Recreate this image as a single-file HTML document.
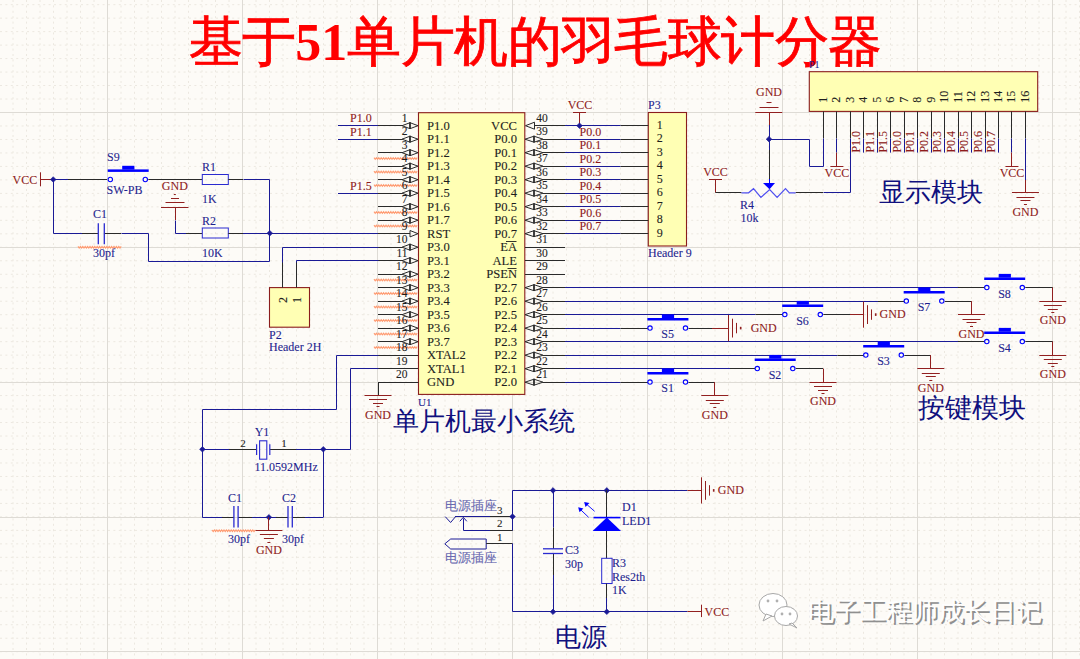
<!DOCTYPE html>
<html><head><meta charset="utf-8"><style>html,body{margin:0;padding:0;background:#fdfbf7;}svg{display:block}</style></head>
<body><svg width="1080" height="659" viewBox="0 0 1080 659">
<rect x="0" y="0" width="1080" height="659" fill="#fdfbf7"/>
<line x1="13.0" y1="0" x2="13.0" y2="659" stroke="#ece8e0" stroke-width="1" stroke-dasharray="2,3.4"/>
<line x1="26.5" y1="0" x2="26.5" y2="659" stroke="#ece8e0" stroke-width="1" stroke-dasharray="2,3.4"/>
<line x1="40.0" y1="0" x2="40.0" y2="659" stroke="#ece8e0" stroke-width="1" stroke-dasharray="2,3.4"/>
<line x1="53.5" y1="0" x2="53.5" y2="659" stroke="#ece8e0" stroke-width="1" stroke-dasharray="2,3.4"/>
<line x1="67.0" y1="0" x2="67.0" y2="659" stroke="#ece8e0" stroke-width="1" stroke-dasharray="2,3.4"/>
<line x1="80.5" y1="0" x2="80.5" y2="659" stroke="#ece8e0" stroke-width="1" stroke-dasharray="2,3.4"/>
<line x1="94.0" y1="0" x2="94.0" y2="659" stroke="#ece8e0" stroke-width="1" stroke-dasharray="2,3.4"/>
<line x1="107.5" y1="0" x2="107.5" y2="659" stroke="#ece8e0" stroke-width="1" stroke-dasharray="2,3.4"/>
<line x1="121.0" y1="0" x2="121.0" y2="659" stroke="#ece8e0" stroke-width="1" stroke-dasharray="2,3.4"/>
<line x1="134.5" y1="0" x2="134.5" y2="659" stroke="#ece8e0" stroke-width="1" stroke-dasharray="2,3.4"/>
<line x1="148.0" y1="0" x2="148.0" y2="659" stroke="#ece8e0" stroke-width="1" stroke-dasharray="2,3.4"/>
<line x1="161.5" y1="0" x2="161.5" y2="659" stroke="#ece8e0" stroke-width="1" stroke-dasharray="2,3.4"/>
<line x1="175.0" y1="0" x2="175.0" y2="659" stroke="#ece8e0" stroke-width="1" stroke-dasharray="2,3.4"/>
<line x1="188.5" y1="0" x2="188.5" y2="659" stroke="#ece8e0" stroke-width="1" stroke-dasharray="2,3.4"/>
<line x1="202.0" y1="0" x2="202.0" y2="659" stroke="#ece8e0" stroke-width="1" stroke-dasharray="2,3.4"/>
<line x1="215.5" y1="0" x2="215.5" y2="659" stroke="#ece8e0" stroke-width="1" stroke-dasharray="2,3.4"/>
<line x1="229.0" y1="0" x2="229.0" y2="659" stroke="#ece8e0" stroke-width="1" stroke-dasharray="2,3.4"/>
<line x1="242.5" y1="0" x2="242.5" y2="659" stroke="#ece8e0" stroke-width="1" stroke-dasharray="2,3.4"/>
<line x1="256.0" y1="0" x2="256.0" y2="659" stroke="#ece8e0" stroke-width="1" stroke-dasharray="2,3.4"/>
<line x1="269.5" y1="0" x2="269.5" y2="659" stroke="#ece8e0" stroke-width="1" stroke-dasharray="2,3.4"/>
<line x1="283.0" y1="0" x2="283.0" y2="659" stroke="#ece8e0" stroke-width="1" stroke-dasharray="2,3.4"/>
<line x1="296.5" y1="0" x2="296.5" y2="659" stroke="#ece8e0" stroke-width="1" stroke-dasharray="2,3.4"/>
<line x1="310.0" y1="0" x2="310.0" y2="659" stroke="#ece8e0" stroke-width="1" stroke-dasharray="2,3.4"/>
<line x1="323.5" y1="0" x2="323.5" y2="659" stroke="#ece8e0" stroke-width="1" stroke-dasharray="2,3.4"/>
<line x1="337.0" y1="0" x2="337.0" y2="659" stroke="#ece8e0" stroke-width="1" stroke-dasharray="2,3.4"/>
<line x1="350.5" y1="0" x2="350.5" y2="659" stroke="#ece8e0" stroke-width="1" stroke-dasharray="2,3.4"/>
<line x1="364.0" y1="0" x2="364.0" y2="659" stroke="#ece8e0" stroke-width="1" stroke-dasharray="2,3.4"/>
<line x1="377.5" y1="0" x2="377.5" y2="659" stroke="#ece8e0" stroke-width="1" stroke-dasharray="2,3.4"/>
<line x1="391.0" y1="0" x2="391.0" y2="659" stroke="#ece8e0" stroke-width="1" stroke-dasharray="2,3.4"/>
<line x1="404.5" y1="0" x2="404.5" y2="659" stroke="#ece8e0" stroke-width="1" stroke-dasharray="2,3.4"/>
<line x1="418.0" y1="0" x2="418.0" y2="659" stroke="#ece8e0" stroke-width="1" stroke-dasharray="2,3.4"/>
<line x1="431.5" y1="0" x2="431.5" y2="659" stroke="#ece8e0" stroke-width="1" stroke-dasharray="2,3.4"/>
<line x1="445.0" y1="0" x2="445.0" y2="659" stroke="#ece8e0" stroke-width="1" stroke-dasharray="2,3.4"/>
<line x1="458.5" y1="0" x2="458.5" y2="659" stroke="#ece8e0" stroke-width="1" stroke-dasharray="2,3.4"/>
<line x1="472.0" y1="0" x2="472.0" y2="659" stroke="#ece8e0" stroke-width="1" stroke-dasharray="2,3.4"/>
<line x1="485.5" y1="0" x2="485.5" y2="659" stroke="#ece8e0" stroke-width="1" stroke-dasharray="2,3.4"/>
<line x1="499.0" y1="0" x2="499.0" y2="659" stroke="#ece8e0" stroke-width="1" stroke-dasharray="2,3.4"/>
<line x1="512.5" y1="0" x2="512.5" y2="659" stroke="#ece8e0" stroke-width="1" stroke-dasharray="2,3.4"/>
<line x1="526.0" y1="0" x2="526.0" y2="659" stroke="#ece8e0" stroke-width="1" stroke-dasharray="2,3.4"/>
<line x1="539.5" y1="0" x2="539.5" y2="659" stroke="#ece8e0" stroke-width="1" stroke-dasharray="2,3.4"/>
<line x1="553.0" y1="0" x2="553.0" y2="659" stroke="#ece8e0" stroke-width="1" stroke-dasharray="2,3.4"/>
<line x1="566.5" y1="0" x2="566.5" y2="659" stroke="#ece8e0" stroke-width="1" stroke-dasharray="2,3.4"/>
<line x1="580.0" y1="0" x2="580.0" y2="659" stroke="#ece8e0" stroke-width="1" stroke-dasharray="2,3.4"/>
<line x1="593.5" y1="0" x2="593.5" y2="659" stroke="#ece8e0" stroke-width="1" stroke-dasharray="2,3.4"/>
<line x1="607.0" y1="0" x2="607.0" y2="659" stroke="#ece8e0" stroke-width="1" stroke-dasharray="2,3.4"/>
<line x1="620.5" y1="0" x2="620.5" y2="659" stroke="#ece8e0" stroke-width="1" stroke-dasharray="2,3.4"/>
<line x1="634.0" y1="0" x2="634.0" y2="659" stroke="#ece8e0" stroke-width="1" stroke-dasharray="2,3.4"/>
<line x1="647.5" y1="0" x2="647.5" y2="659" stroke="#ece8e0" stroke-width="1" stroke-dasharray="2,3.4"/>
<line x1="661.0" y1="0" x2="661.0" y2="659" stroke="#ece8e0" stroke-width="1" stroke-dasharray="2,3.4"/>
<line x1="674.5" y1="0" x2="674.5" y2="659" stroke="#ece8e0" stroke-width="1" stroke-dasharray="2,3.4"/>
<line x1="688.0" y1="0" x2="688.0" y2="659" stroke="#ece8e0" stroke-width="1" stroke-dasharray="2,3.4"/>
<line x1="701.5" y1="0" x2="701.5" y2="659" stroke="#ece8e0" stroke-width="1" stroke-dasharray="2,3.4"/>
<line x1="715.0" y1="0" x2="715.0" y2="659" stroke="#ece8e0" stroke-width="1" stroke-dasharray="2,3.4"/>
<line x1="728.5" y1="0" x2="728.5" y2="659" stroke="#ece8e0" stroke-width="1" stroke-dasharray="2,3.4"/>
<line x1="742.0" y1="0" x2="742.0" y2="659" stroke="#ece8e0" stroke-width="1" stroke-dasharray="2,3.4"/>
<line x1="755.5" y1="0" x2="755.5" y2="659" stroke="#ece8e0" stroke-width="1" stroke-dasharray="2,3.4"/>
<line x1="769.0" y1="0" x2="769.0" y2="659" stroke="#ece8e0" stroke-width="1" stroke-dasharray="2,3.4"/>
<line x1="782.5" y1="0" x2="782.5" y2="659" stroke="#ece8e0" stroke-width="1" stroke-dasharray="2,3.4"/>
<line x1="796.0" y1="0" x2="796.0" y2="659" stroke="#ece8e0" stroke-width="1" stroke-dasharray="2,3.4"/>
<line x1="809.5" y1="0" x2="809.5" y2="659" stroke="#ece8e0" stroke-width="1" stroke-dasharray="2,3.4"/>
<line x1="823.0" y1="0" x2="823.0" y2="659" stroke="#ece8e0" stroke-width="1" stroke-dasharray="2,3.4"/>
<line x1="836.5" y1="0" x2="836.5" y2="659" stroke="#ece8e0" stroke-width="1" stroke-dasharray="2,3.4"/>
<line x1="850.0" y1="0" x2="850.0" y2="659" stroke="#ece8e0" stroke-width="1" stroke-dasharray="2,3.4"/>
<line x1="863.5" y1="0" x2="863.5" y2="659" stroke="#ece8e0" stroke-width="1" stroke-dasharray="2,3.4"/>
<line x1="877.0" y1="0" x2="877.0" y2="659" stroke="#ece8e0" stroke-width="1" stroke-dasharray="2,3.4"/>
<line x1="890.5" y1="0" x2="890.5" y2="659" stroke="#ece8e0" stroke-width="1" stroke-dasharray="2,3.4"/>
<line x1="904.0" y1="0" x2="904.0" y2="659" stroke="#ece8e0" stroke-width="1" stroke-dasharray="2,3.4"/>
<line x1="917.5" y1="0" x2="917.5" y2="659" stroke="#ece8e0" stroke-width="1" stroke-dasharray="2,3.4"/>
<line x1="931.0" y1="0" x2="931.0" y2="659" stroke="#ece8e0" stroke-width="1" stroke-dasharray="2,3.4"/>
<line x1="944.5" y1="0" x2="944.5" y2="659" stroke="#ece8e0" stroke-width="1" stroke-dasharray="2,3.4"/>
<line x1="958.0" y1="0" x2="958.0" y2="659" stroke="#ece8e0" stroke-width="1" stroke-dasharray="2,3.4"/>
<line x1="971.5" y1="0" x2="971.5" y2="659" stroke="#ece8e0" stroke-width="1" stroke-dasharray="2,3.4"/>
<line x1="985.0" y1="0" x2="985.0" y2="659" stroke="#ece8e0" stroke-width="1" stroke-dasharray="2,3.4"/>
<line x1="998.5" y1="0" x2="998.5" y2="659" stroke="#ece8e0" stroke-width="1" stroke-dasharray="2,3.4"/>
<line x1="1012.0" y1="0" x2="1012.0" y2="659" stroke="#ece8e0" stroke-width="1" stroke-dasharray="2,3.4"/>
<line x1="1025.5" y1="0" x2="1025.5" y2="659" stroke="#ece8e0" stroke-width="1" stroke-dasharray="2,3.4"/>
<line x1="1039.0" y1="0" x2="1039.0" y2="659" stroke="#ece8e0" stroke-width="1" stroke-dasharray="2,3.4"/>
<line x1="1052.5" y1="0" x2="1052.5" y2="659" stroke="#ece8e0" stroke-width="1" stroke-dasharray="2,3.4"/>
<line x1="1066.0" y1="0" x2="1066.0" y2="659" stroke="#ece8e0" stroke-width="1" stroke-dasharray="2,3.4"/>
<line x1="1079.5" y1="0" x2="1079.5" y2="659" stroke="#ece8e0" stroke-width="1" stroke-dasharray="2,3.4"/>
<line x1="0" y1="4.66" x2="1080" y2="4.66" stroke="#ece8e0" stroke-width="1" stroke-dasharray="2,3.4"/>
<line x1="0" y1="18.14" x2="1080" y2="18.14" stroke="#ece8e0" stroke-width="1" stroke-dasharray="2,3.4"/>
<line x1="0" y1="31.62" x2="1080" y2="31.62" stroke="#ece8e0" stroke-width="1" stroke-dasharray="2,3.4"/>
<line x1="0" y1="45.1" x2="1080" y2="45.1" stroke="#ece8e0" stroke-width="1" stroke-dasharray="2,3.4"/>
<line x1="0" y1="58.58" x2="1080" y2="58.58" stroke="#ece8e0" stroke-width="1" stroke-dasharray="2,3.4"/>
<line x1="0" y1="72.06" x2="1080" y2="72.06" stroke="#ece8e0" stroke-width="1" stroke-dasharray="2,3.4"/>
<line x1="0" y1="85.54" x2="1080" y2="85.54" stroke="#ece8e0" stroke-width="1" stroke-dasharray="2,3.4"/>
<line x1="0" y1="99.02" x2="1080" y2="99.02" stroke="#ece8e0" stroke-width="1" stroke-dasharray="2,3.4"/>
<line x1="0" y1="112.5" x2="1080" y2="112.5" stroke="#ece8e0" stroke-width="1" stroke-dasharray="2,3.4"/>
<line x1="0" y1="125.98" x2="1080" y2="125.98" stroke="#ece8e0" stroke-width="1" stroke-dasharray="2,3.4"/>
<line x1="0" y1="139.46" x2="1080" y2="139.46" stroke="#ece8e0" stroke-width="1" stroke-dasharray="2,3.4"/>
<line x1="0" y1="152.94" x2="1080" y2="152.94" stroke="#ece8e0" stroke-width="1" stroke-dasharray="2,3.4"/>
<line x1="0" y1="166.42" x2="1080" y2="166.42" stroke="#ece8e0" stroke-width="1" stroke-dasharray="2,3.4"/>
<line x1="0" y1="179.9" x2="1080" y2="179.9" stroke="#ece8e0" stroke-width="1" stroke-dasharray="2,3.4"/>
<line x1="0" y1="193.38" x2="1080" y2="193.38" stroke="#ece8e0" stroke-width="1" stroke-dasharray="2,3.4"/>
<line x1="0" y1="206.86" x2="1080" y2="206.86" stroke="#ece8e0" stroke-width="1" stroke-dasharray="2,3.4"/>
<line x1="0" y1="220.34" x2="1080" y2="220.34" stroke="#ece8e0" stroke-width="1" stroke-dasharray="2,3.4"/>
<line x1="0" y1="233.82" x2="1080" y2="233.82" stroke="#ece8e0" stroke-width="1" stroke-dasharray="2,3.4"/>
<line x1="0" y1="247.3" x2="1080" y2="247.3" stroke="#ece8e0" stroke-width="1" stroke-dasharray="2,3.4"/>
<line x1="0" y1="260.78" x2="1080" y2="260.78" stroke="#ece8e0" stroke-width="1" stroke-dasharray="2,3.4"/>
<line x1="0" y1="274.26" x2="1080" y2="274.26" stroke="#ece8e0" stroke-width="1" stroke-dasharray="2,3.4"/>
<line x1="0" y1="287.74" x2="1080" y2="287.74" stroke="#ece8e0" stroke-width="1" stroke-dasharray="2,3.4"/>
<line x1="0" y1="301.22" x2="1080" y2="301.22" stroke="#ece8e0" stroke-width="1" stroke-dasharray="2,3.4"/>
<line x1="0" y1="314.7" x2="1080" y2="314.7" stroke="#ece8e0" stroke-width="1" stroke-dasharray="2,3.4"/>
<line x1="0" y1="328.18" x2="1080" y2="328.18" stroke="#ece8e0" stroke-width="1" stroke-dasharray="2,3.4"/>
<line x1="0" y1="341.66" x2="1080" y2="341.66" stroke="#ece8e0" stroke-width="1" stroke-dasharray="2,3.4"/>
<line x1="0" y1="355.14" x2="1080" y2="355.14" stroke="#ece8e0" stroke-width="1" stroke-dasharray="2,3.4"/>
<line x1="0" y1="368.62" x2="1080" y2="368.62" stroke="#ece8e0" stroke-width="1" stroke-dasharray="2,3.4"/>
<line x1="0" y1="382.1" x2="1080" y2="382.1" stroke="#ece8e0" stroke-width="1" stroke-dasharray="2,3.4"/>
<line x1="0" y1="395.58" x2="1080" y2="395.58" stroke="#ece8e0" stroke-width="1" stroke-dasharray="2,3.4"/>
<line x1="0" y1="409.06" x2="1080" y2="409.06" stroke="#ece8e0" stroke-width="1" stroke-dasharray="2,3.4"/>
<line x1="0" y1="422.54" x2="1080" y2="422.54" stroke="#ece8e0" stroke-width="1" stroke-dasharray="2,3.4"/>
<line x1="0" y1="436.02" x2="1080" y2="436.02" stroke="#ece8e0" stroke-width="1" stroke-dasharray="2,3.4"/>
<line x1="0" y1="449.5" x2="1080" y2="449.5" stroke="#ece8e0" stroke-width="1" stroke-dasharray="2,3.4"/>
<line x1="0" y1="462.98" x2="1080" y2="462.98" stroke="#ece8e0" stroke-width="1" stroke-dasharray="2,3.4"/>
<line x1="0" y1="476.46" x2="1080" y2="476.46" stroke="#ece8e0" stroke-width="1" stroke-dasharray="2,3.4"/>
<line x1="0" y1="489.94" x2="1080" y2="489.94" stroke="#ece8e0" stroke-width="1" stroke-dasharray="2,3.4"/>
<line x1="0" y1="503.42" x2="1080" y2="503.42" stroke="#ece8e0" stroke-width="1" stroke-dasharray="2,3.4"/>
<line x1="0" y1="516.9" x2="1080" y2="516.9" stroke="#ece8e0" stroke-width="1" stroke-dasharray="2,3.4"/>
<line x1="0" y1="530.38" x2="1080" y2="530.38" stroke="#ece8e0" stroke-width="1" stroke-dasharray="2,3.4"/>
<line x1="0" y1="543.86" x2="1080" y2="543.86" stroke="#ece8e0" stroke-width="1" stroke-dasharray="2,3.4"/>
<line x1="0" y1="557.34" x2="1080" y2="557.34" stroke="#ece8e0" stroke-width="1" stroke-dasharray="2,3.4"/>
<line x1="0" y1="570.82" x2="1080" y2="570.82" stroke="#ece8e0" stroke-width="1" stroke-dasharray="2,3.4"/>
<line x1="0" y1="584.3" x2="1080" y2="584.3" stroke="#ece8e0" stroke-width="1" stroke-dasharray="2,3.4"/>
<line x1="0" y1="597.78" x2="1080" y2="597.78" stroke="#ece8e0" stroke-width="1" stroke-dasharray="2,3.4"/>
<line x1="0" y1="611.26" x2="1080" y2="611.26" stroke="#ece8e0" stroke-width="1" stroke-dasharray="2,3.4"/>
<line x1="0" y1="624.74" x2="1080" y2="624.74" stroke="#ece8e0" stroke-width="1" stroke-dasharray="2,3.4"/>
<line x1="0" y1="638.22" x2="1080" y2="638.22" stroke="#ece8e0" stroke-width="1" stroke-dasharray="2,3.4"/>
<line x1="0" y1="651.7" x2="1080" y2="651.7" stroke="#ece8e0" stroke-width="1" stroke-dasharray="2,3.4"/>
<line x1="107.5" y1="0" x2="107.5" y2="659" stroke="#dedbd5" stroke-width="1"/>
<line x1="242.5" y1="0" x2="242.5" y2="659" stroke="#dedbd5" stroke-width="1"/>
<line x1="377.5" y1="0" x2="377.5" y2="659" stroke="#dedbd5" stroke-width="1"/>
<line x1="512.5" y1="0" x2="512.5" y2="659" stroke="#dedbd5" stroke-width="1"/>
<line x1="647.5" y1="0" x2="647.5" y2="659" stroke="#dedbd5" stroke-width="1"/>
<line x1="782.5" y1="0" x2="782.5" y2="659" stroke="#dedbd5" stroke-width="1"/>
<line x1="917.5" y1="0" x2="917.5" y2="659" stroke="#dedbd5" stroke-width="1"/>
<line x1="1052.5" y1="0" x2="1052.5" y2="659" stroke="#dedbd5" stroke-width="1"/>
<line x1="0" y1="112.5" x2="1080" y2="112.5" stroke="#dedbd5" stroke-width="1"/>
<line x1="0" y1="247.5" x2="1080" y2="247.5" stroke="#dedbd5" stroke-width="1"/>
<line x1="0" y1="382.5" x2="1080" y2="382.5" stroke="#dedbd5" stroke-width="1"/>
<line x1="0" y1="517.5" x2="1080" y2="517.5" stroke="#dedbd5" stroke-width="1"/>
<line x1="0" y1="651.5" x2="1080" y2="651.5" stroke="#dedbd5" stroke-width="1"/>
<text x="188.5" y="59.5" font-size="54" fill="#ff0000" text-anchor="start" font-family="Liberation Sans, sans-serif"  font-weight="500" letter-spacing="-0.6" stroke="#ff0000" stroke-width="0.8">基于<tspan font-family="Liberation Serif, serif" font-weight="bold" letter-spacing="0" stroke-width="0" font-size="52">51</tspan>单片机的羽毛球计分器</text>
<rect x="418.5" y="112.7" width="106.29999999999995" height="281.7" fill="#ffffb4" stroke="#8a1d1d" stroke-width="1.1"/>
<polyline points="374,157.7 375.2,159.3 376.4,157.7 377.6,159.3 378.8,157.7 380.0,159.3 381.2,157.7 382.4,159.3 383.6,157.7 384.8,159.3 386.0,157.7 387.2,159.3 388.4,157.7 389.6,159.3 390.8,157.7 392.0,159.3 393.2,157.7 394.4,159.3 395.6,157.7 396.8,159.3 398.0,157.7 399.2,159.3 400.4,157.7 401.6,159.3 402.8,157.7 404.0,159.3 405.2,157.7 406.4,159.3 407.6,157.7 408.8,159.3 410.0,157.7 411.2,159.3 412.4,157.7 413.6,159.3 414.8,157.7 416.0,159.3 417.2,157.7" fill="none" stroke="#ff9a70" stroke-width="1.1"/>
<polyline points="374,171.2 375.2,172.8 376.4,171.2 377.6,172.8 378.8,171.2 380.0,172.8 381.2,171.2 382.4,172.8 383.6,171.2 384.8,172.8 386.0,171.2 387.2,172.8 388.4,171.2 389.6,172.8 390.8,171.2 392.0,172.8 393.2,171.2 394.4,172.8 395.6,171.2 396.8,172.8 398.0,171.2 399.2,172.8 400.4,171.2 401.6,172.8 402.8,171.2 404.0,172.8 405.2,171.2 406.4,172.8 407.6,171.2 408.8,172.8 410.0,171.2 411.2,172.8 412.4,171.2 413.6,172.8 414.8,171.2 416.0,172.8 417.2,171.2" fill="none" stroke="#ff9a70" stroke-width="1.1"/>
<polyline points="374,184.7 375.2,186.3 376.4,184.7 377.6,186.3 378.8,184.7 380.0,186.3 381.2,184.7 382.4,186.3 383.6,184.7 384.8,186.3 386.0,184.7 387.2,186.3 388.4,184.7 389.6,186.3 390.8,184.7 392.0,186.3 393.2,184.7 394.4,186.3 395.6,184.7 396.8,186.3 398.0,184.7 399.2,186.3 400.4,184.7 401.6,186.3 402.8,184.7 404.0,186.3 405.2,184.7 406.4,186.3 407.6,184.7 408.8,186.3 410.0,184.7 411.2,186.3 412.4,184.7 413.6,186.3 414.8,184.7 416.0,186.3 417.2,184.7" fill="none" stroke="#ff9a70" stroke-width="1.1"/>
<polyline points="374,211.7 375.2,213.3 376.4,211.7 377.6,213.3 378.8,211.7 380.0,213.3 381.2,211.7 382.4,213.3 383.6,211.7 384.8,213.3 386.0,211.7 387.2,213.3 388.4,211.7 389.6,213.3 390.8,211.7 392.0,213.3 393.2,211.7 394.4,213.3 395.6,211.7 396.8,213.3 398.0,211.7 399.2,213.3 400.4,211.7 401.6,213.3 402.8,211.7 404.0,213.3 405.2,211.7 406.4,213.3 407.6,211.7 408.8,213.3 410.0,211.7 411.2,213.3 412.4,211.7 413.6,213.3 414.8,211.7 416.0,213.3 417.2,211.7" fill="none" stroke="#ff9a70" stroke-width="1.1"/>
<polyline points="374,225.2 375.2,226.8 376.4,225.2 377.6,226.8 378.8,225.2 380.0,226.8 381.2,225.2 382.4,226.8 383.6,225.2 384.8,226.8 386.0,225.2 387.2,226.8 388.4,225.2 389.6,226.8 390.8,225.2 392.0,226.8 393.2,225.2 394.4,226.8 395.6,225.2 396.8,226.8 398.0,225.2 399.2,226.8 400.4,225.2 401.6,226.8 402.8,225.2 404.0,226.8 405.2,225.2 406.4,226.8 407.6,225.2 408.8,226.8 410.0,225.2 411.2,226.8 412.4,225.2 413.6,226.8 414.8,225.2 416.0,226.8 417.2,225.2" fill="none" stroke="#ff9a70" stroke-width="1.1"/>
<polyline points="374,279.2 375.2,280.8 376.4,279.2 377.6,280.8 378.8,279.2 380.0,280.8 381.2,279.2 382.4,280.8 383.6,279.2 384.8,280.8 386.0,279.2 387.2,280.8 388.4,279.2 389.6,280.8 390.8,279.2 392.0,280.8 393.2,279.2 394.4,280.8 395.6,279.2 396.8,280.8 398.0,279.2 399.2,280.8 400.4,279.2 401.6,280.8 402.8,279.2 404.0,280.8 405.2,279.2 406.4,280.8 407.6,279.2 408.8,280.8 410.0,279.2 411.2,280.8 412.4,279.2 413.6,280.8 414.8,279.2 416.0,280.8 417.2,279.2" fill="none" stroke="#ff9a70" stroke-width="1.1"/>
<polyline points="374,292.7 375.2,294.3 376.4,292.7 377.6,294.3 378.8,292.7 380.0,294.3 381.2,292.7 382.4,294.3 383.6,292.7 384.8,294.3 386.0,292.7 387.2,294.3 388.4,292.7 389.6,294.3 390.8,292.7 392.0,294.3 393.2,292.7 394.4,294.3 395.6,292.7 396.8,294.3 398.0,292.7 399.2,294.3 400.4,292.7 401.6,294.3 402.8,292.7 404.0,294.3 405.2,292.7 406.4,294.3 407.6,292.7 408.8,294.3 410.0,292.7 411.2,294.3 412.4,292.7 413.6,294.3 414.8,292.7 416.0,294.3 417.2,292.7" fill="none" stroke="#ff9a70" stroke-width="1.1"/>
<polyline points="374,306.2 375.2,307.8 376.4,306.2 377.6,307.8 378.8,306.2 380.0,307.8 381.2,306.2 382.4,307.8 383.6,306.2 384.8,307.8 386.0,306.2 387.2,307.8 388.4,306.2 389.6,307.8 390.8,306.2 392.0,307.8 393.2,306.2 394.4,307.8 395.6,306.2 396.8,307.8 398.0,306.2 399.2,307.8 400.4,306.2 401.6,307.8 402.8,306.2 404.0,307.8 405.2,306.2 406.4,307.8 407.6,306.2 408.8,307.8 410.0,306.2 411.2,307.8 412.4,306.2 413.6,307.8 414.8,306.2 416.0,307.8 417.2,306.2" fill="none" stroke="#ff9a70" stroke-width="1.1"/>
<polyline points="374,319.7 375.2,321.3 376.4,319.7 377.6,321.3 378.8,319.7 380.0,321.3 381.2,319.7 382.4,321.3 383.6,319.7 384.8,321.3 386.0,319.7 387.2,321.3 388.4,319.7 389.6,321.3 390.8,319.7 392.0,321.3 393.2,319.7 394.4,321.3 395.6,319.7 396.8,321.3 398.0,319.7 399.2,321.3 400.4,319.7 401.6,321.3 402.8,319.7 404.0,321.3 405.2,319.7 406.4,321.3 407.6,319.7 408.8,321.3 410.0,319.7 411.2,321.3 412.4,319.7 413.6,321.3 414.8,319.7 416.0,321.3 417.2,319.7" fill="none" stroke="#ff9a70" stroke-width="1.1"/>
<polyline points="374,333.2 375.2,334.8 376.4,333.2 377.6,334.8 378.8,333.2 380.0,334.8 381.2,333.2 382.4,334.8 383.6,333.2 384.8,334.8 386.0,333.2 387.2,334.8 388.4,333.2 389.6,334.8 390.8,333.2 392.0,334.8 393.2,333.2 394.4,334.8 395.6,333.2 396.8,334.8 398.0,333.2 399.2,334.8 400.4,333.2 401.6,334.8 402.8,333.2 404.0,334.8 405.2,333.2 406.4,334.8 407.6,333.2 408.8,334.8 410.0,333.2 411.2,334.8 412.4,333.2 413.6,334.8 414.8,333.2 416.0,334.8 417.2,333.2" fill="none" stroke="#ff9a70" stroke-width="1.1"/>
<polyline points="374,346.7 375.2,348.3 376.4,346.7 377.6,348.3 378.8,346.7 380.0,348.3 381.2,346.7 382.4,348.3 383.6,346.7 384.8,348.3 386.0,346.7 387.2,348.3 388.4,346.7 389.6,348.3 390.8,346.7 392.0,348.3 393.2,346.7 394.4,348.3 395.6,346.7 396.8,348.3 398.0,346.7 399.2,348.3 400.4,346.7 401.6,348.3 402.8,346.7 404.0,348.3 405.2,346.7 406.4,348.3 407.6,346.7 408.8,348.3 410.0,346.7 411.2,348.3 412.4,346.7 413.6,348.3 414.8,346.7 416.0,348.3 417.2,346.7" fill="none" stroke="#ff9a70" stroke-width="1.1"/>
<line x1="378" y1="125.5" x2="402" y2="125.5" stroke="#2a2a2a" stroke-width="1.0"/>
<path d="M410,122.7 L402,125.7 L410,128.7 M410,122.7 L418,125.7 L410,128.7" fill="none" stroke="#2a2a2a" stroke-width="1"/>
<line x1="410" y1="122.3" x2="410" y2="129.1" stroke="#2a2a2a" stroke-width="1.8"/>
<text x="427" y="129.6" font-size="12.6" fill="#1e1e1e" text-anchor="start" font-family="Liberation Serif, serif" stroke="#1e1e1e" stroke-width="0.1" >P1.0</text>
<text x="407.5" y="121.9" font-size="11.5" fill="#1e1e1e" text-anchor="end" font-family="Liberation Serif, serif" stroke="#1e1e1e" stroke-width="0.1" >1</text>
<line x1="378" y1="139.5" x2="402" y2="139.5" stroke="#2a2a2a" stroke-width="1.0"/>
<path d="M410,136.2 L402,139.2 L410,142.2 M410,136.2 L418,139.2 L410,142.2" fill="none" stroke="#2a2a2a" stroke-width="1"/>
<line x1="410" y1="135.79999999999998" x2="410" y2="142.6" stroke="#2a2a2a" stroke-width="1.8"/>
<text x="427" y="143.1" font-size="12.6" fill="#1e1e1e" text-anchor="start" font-family="Liberation Serif, serif" stroke="#1e1e1e" stroke-width="0.1" >P1.1</text>
<text x="407.5" y="135.39999999999998" font-size="11.5" fill="#1e1e1e" text-anchor="end" font-family="Liberation Serif, serif" stroke="#1e1e1e" stroke-width="0.1" >2</text>
<line x1="378" y1="152.5" x2="402" y2="152.5" stroke="#2a2a2a" stroke-width="1.0"/>
<path d="M410,149.7 L402,152.7 L410,155.7 M410,149.7 L418,152.7 L410,155.7" fill="none" stroke="#2a2a2a" stroke-width="1"/>
<line x1="410" y1="149.29999999999998" x2="410" y2="156.1" stroke="#2a2a2a" stroke-width="1.8"/>
<text x="427" y="156.6" font-size="12.6" fill="#1e1e1e" text-anchor="start" font-family="Liberation Serif, serif" stroke="#1e1e1e" stroke-width="0.1" >P1.2</text>
<text x="407.5" y="148.89999999999998" font-size="11.5" fill="#1e1e1e" text-anchor="end" font-family="Liberation Serif, serif" stroke="#1e1e1e" stroke-width="0.1" >3</text>
<line x1="378" y1="166.5" x2="402" y2="166.5" stroke="#2a2a2a" stroke-width="1.0"/>
<path d="M410,163.2 L402,166.2 L410,169.2 M410,163.2 L418,166.2 L410,169.2" fill="none" stroke="#2a2a2a" stroke-width="1"/>
<line x1="410" y1="162.79999999999998" x2="410" y2="169.6" stroke="#2a2a2a" stroke-width="1.8"/>
<text x="427" y="170.1" font-size="12.6" fill="#1e1e1e" text-anchor="start" font-family="Liberation Serif, serif" stroke="#1e1e1e" stroke-width="0.1" >P1.3</text>
<text x="407.5" y="162.39999999999998" font-size="11.5" fill="#1e1e1e" text-anchor="end" font-family="Liberation Serif, serif" stroke="#1e1e1e" stroke-width="0.1" >4</text>
<line x1="378" y1="179.5" x2="402" y2="179.5" stroke="#2a2a2a" stroke-width="1.0"/>
<path d="M410,176.7 L402,179.7 L410,182.7 M410,176.7 L418,179.7 L410,182.7" fill="none" stroke="#2a2a2a" stroke-width="1"/>
<line x1="410" y1="176.29999999999998" x2="410" y2="183.1" stroke="#2a2a2a" stroke-width="1.8"/>
<text x="427" y="183.6" font-size="12.6" fill="#1e1e1e" text-anchor="start" font-family="Liberation Serif, serif" stroke="#1e1e1e" stroke-width="0.1" >P1.4</text>
<text x="407.5" y="175.89999999999998" font-size="11.5" fill="#1e1e1e" text-anchor="end" font-family="Liberation Serif, serif" stroke="#1e1e1e" stroke-width="0.1" >5</text>
<line x1="378" y1="193.5" x2="402" y2="193.5" stroke="#2a2a2a" stroke-width="1.0"/>
<path d="M410,190.2 L402,193.2 L410,196.2 M410,190.2 L418,193.2 L410,196.2" fill="none" stroke="#2a2a2a" stroke-width="1"/>
<line x1="410" y1="189.79999999999998" x2="410" y2="196.6" stroke="#2a2a2a" stroke-width="1.8"/>
<text x="427" y="197.1" font-size="12.6" fill="#1e1e1e" text-anchor="start" font-family="Liberation Serif, serif" stroke="#1e1e1e" stroke-width="0.1" >P1.5</text>
<text x="407.5" y="189.39999999999998" font-size="11.5" fill="#1e1e1e" text-anchor="end" font-family="Liberation Serif, serif" stroke="#1e1e1e" stroke-width="0.1" >6</text>
<line x1="378" y1="206.5" x2="402" y2="206.5" stroke="#2a2a2a" stroke-width="1.0"/>
<path d="M410,203.7 L402,206.7 L410,209.7 M410,203.7 L418,206.7 L410,209.7" fill="none" stroke="#2a2a2a" stroke-width="1"/>
<line x1="410" y1="203.29999999999998" x2="410" y2="210.1" stroke="#2a2a2a" stroke-width="1.8"/>
<text x="427" y="210.6" font-size="12.6" fill="#1e1e1e" text-anchor="start" font-family="Liberation Serif, serif" stroke="#1e1e1e" stroke-width="0.1" >P1.6</text>
<text x="407.5" y="202.89999999999998" font-size="11.5" fill="#1e1e1e" text-anchor="end" font-family="Liberation Serif, serif" stroke="#1e1e1e" stroke-width="0.1" >7</text>
<line x1="378" y1="220.5" x2="402" y2="220.5" stroke="#2a2a2a" stroke-width="1.0"/>
<path d="M410,217.2 L402,220.2 L410,223.2 M410,217.2 L418,220.2 L410,223.2" fill="none" stroke="#2a2a2a" stroke-width="1"/>
<line x1="410" y1="216.79999999999998" x2="410" y2="223.6" stroke="#2a2a2a" stroke-width="1.8"/>
<text x="427" y="224.1" font-size="12.6" fill="#1e1e1e" text-anchor="start" font-family="Liberation Serif, serif" stroke="#1e1e1e" stroke-width="0.1" >P1.7</text>
<text x="407.5" y="216.39999999999998" font-size="11.5" fill="#1e1e1e" text-anchor="end" font-family="Liberation Serif, serif" stroke="#1e1e1e" stroke-width="0.1" >8</text>
<line x1="378" y1="233.5" x2="410" y2="233.5" stroke="#2a2a2a" stroke-width="1.0"/>
<path d="M410,230.5 L418,233.7 L410,236.89999999999998 Z" fill="none" stroke="#2a2a2a" stroke-width="1"/>
<text x="427" y="237.6" font-size="12.6" fill="#1e1e1e" text-anchor="start" font-family="Liberation Serif, serif" stroke="#1e1e1e" stroke-width="0.1" >RST</text>
<text x="407.5" y="229.89999999999998" font-size="11.5" fill="#1e1e1e" text-anchor="end" font-family="Liberation Serif, serif" stroke="#1e1e1e" stroke-width="0.1" >9</text>
<line x1="378" y1="247.5" x2="402" y2="247.5" stroke="#2a2a2a" stroke-width="1.0"/>
<path d="M410,244.2 L402,247.2 L410,250.2 M410,244.2 L418,247.2 L410,250.2" fill="none" stroke="#2a2a2a" stroke-width="1"/>
<line x1="410" y1="243.79999999999998" x2="410" y2="250.6" stroke="#2a2a2a" stroke-width="1.8"/>
<text x="427" y="251.1" font-size="12.6" fill="#1e1e1e" text-anchor="start" font-family="Liberation Serif, serif" stroke="#1e1e1e" stroke-width="0.1" >P3.0</text>
<text x="407.5" y="243.39999999999998" font-size="11.5" fill="#1e1e1e" text-anchor="end" font-family="Liberation Serif, serif" stroke="#1e1e1e" stroke-width="0.1" >10</text>
<line x1="378" y1="260.5" x2="402" y2="260.5" stroke="#2a2a2a" stroke-width="1.0"/>
<path d="M410,257.7 L402,260.7 L410,263.7 M410,257.7 L418,260.7 L410,263.7" fill="none" stroke="#2a2a2a" stroke-width="1"/>
<line x1="410" y1="257.3" x2="410" y2="264.09999999999997" stroke="#2a2a2a" stroke-width="1.8"/>
<text x="427" y="264.59999999999997" font-size="12.6" fill="#1e1e1e" text-anchor="start" font-family="Liberation Serif, serif" stroke="#1e1e1e" stroke-width="0.1" >P3.1</text>
<text x="407.5" y="256.9" font-size="11.5" fill="#1e1e1e" text-anchor="end" font-family="Liberation Serif, serif" stroke="#1e1e1e" stroke-width="0.1" >11</text>
<line x1="378" y1="274.5" x2="402" y2="274.5" stroke="#2a2a2a" stroke-width="1.0"/>
<path d="M410,271.2 L402,274.2 L410,277.2 M410,271.2 L418,274.2 L410,277.2" fill="none" stroke="#2a2a2a" stroke-width="1"/>
<line x1="410" y1="270.8" x2="410" y2="277.59999999999997" stroke="#2a2a2a" stroke-width="1.8"/>
<text x="427" y="278.09999999999997" font-size="12.6" fill="#1e1e1e" text-anchor="start" font-family="Liberation Serif, serif" stroke="#1e1e1e" stroke-width="0.1" >P3.2</text>
<text x="407.5" y="270.4" font-size="11.5" fill="#1e1e1e" text-anchor="end" font-family="Liberation Serif, serif" stroke="#1e1e1e" stroke-width="0.1" >12</text>
<line x1="378" y1="287.5" x2="402" y2="287.5" stroke="#2a2a2a" stroke-width="1.0"/>
<path d="M410,284.7 L402,287.7 L410,290.7 M410,284.7 L418,287.7 L410,290.7" fill="none" stroke="#2a2a2a" stroke-width="1"/>
<line x1="410" y1="284.3" x2="410" y2="291.09999999999997" stroke="#2a2a2a" stroke-width="1.8"/>
<text x="427" y="291.59999999999997" font-size="12.6" fill="#1e1e1e" text-anchor="start" font-family="Liberation Serif, serif" stroke="#1e1e1e" stroke-width="0.1" >P3.3</text>
<text x="407.5" y="283.9" font-size="11.5" fill="#1e1e1e" text-anchor="end" font-family="Liberation Serif, serif" stroke="#1e1e1e" stroke-width="0.1" >13</text>
<line x1="378" y1="301.5" x2="402" y2="301.5" stroke="#2a2a2a" stroke-width="1.0"/>
<path d="M410,298.2 L402,301.2 L410,304.2 M410,298.2 L418,301.2 L410,304.2" fill="none" stroke="#2a2a2a" stroke-width="1"/>
<line x1="410" y1="297.8" x2="410" y2="304.59999999999997" stroke="#2a2a2a" stroke-width="1.8"/>
<text x="427" y="305.09999999999997" font-size="12.6" fill="#1e1e1e" text-anchor="start" font-family="Liberation Serif, serif" stroke="#1e1e1e" stroke-width="0.1" >P3.4</text>
<text x="407.5" y="297.4" font-size="11.5" fill="#1e1e1e" text-anchor="end" font-family="Liberation Serif, serif" stroke="#1e1e1e" stroke-width="0.1" >14</text>
<line x1="378" y1="314.5" x2="402" y2="314.5" stroke="#2a2a2a" stroke-width="1.0"/>
<path d="M410,311.7 L402,314.7 L410,317.7 M410,311.7 L418,314.7 L410,317.7" fill="none" stroke="#2a2a2a" stroke-width="1"/>
<line x1="410" y1="311.3" x2="410" y2="318.09999999999997" stroke="#2a2a2a" stroke-width="1.8"/>
<text x="427" y="318.59999999999997" font-size="12.6" fill="#1e1e1e" text-anchor="start" font-family="Liberation Serif, serif" stroke="#1e1e1e" stroke-width="0.1" >P3.5</text>
<text x="407.5" y="310.9" font-size="11.5" fill="#1e1e1e" text-anchor="end" font-family="Liberation Serif, serif" stroke="#1e1e1e" stroke-width="0.1" >15</text>
<line x1="378" y1="328.5" x2="402" y2="328.5" stroke="#2a2a2a" stroke-width="1.0"/>
<path d="M410,325.2 L402,328.2 L410,331.2 M410,325.2 L418,328.2 L410,331.2" fill="none" stroke="#2a2a2a" stroke-width="1"/>
<line x1="410" y1="324.8" x2="410" y2="331.59999999999997" stroke="#2a2a2a" stroke-width="1.8"/>
<text x="427" y="332.09999999999997" font-size="12.6" fill="#1e1e1e" text-anchor="start" font-family="Liberation Serif, serif" stroke="#1e1e1e" stroke-width="0.1" >P3.6</text>
<text x="407.5" y="324.4" font-size="11.5" fill="#1e1e1e" text-anchor="end" font-family="Liberation Serif, serif" stroke="#1e1e1e" stroke-width="0.1" >16</text>
<line x1="378" y1="341.5" x2="402" y2="341.5" stroke="#2a2a2a" stroke-width="1.0"/>
<path d="M410,338.7 L402,341.7 L410,344.7 M410,338.7 L418,341.7 L410,344.7" fill="none" stroke="#2a2a2a" stroke-width="1"/>
<line x1="410" y1="338.3" x2="410" y2="345.09999999999997" stroke="#2a2a2a" stroke-width="1.8"/>
<text x="427" y="345.59999999999997" font-size="12.6" fill="#1e1e1e" text-anchor="start" font-family="Liberation Serif, serif" stroke="#1e1e1e" stroke-width="0.1" >P3.7</text>
<text x="407.5" y="337.9" font-size="11.5" fill="#1e1e1e" text-anchor="end" font-family="Liberation Serif, serif" stroke="#1e1e1e" stroke-width="0.1" >17</text>
<line x1="378" y1="355.5" x2="418" y2="355.5" stroke="#2a2a2a" stroke-width="1.0"/>
<text x="427" y="359.09999999999997" font-size="12.6" fill="#1e1e1e" text-anchor="start" font-family="Liberation Serif, serif" stroke="#1e1e1e" stroke-width="0.1" >XTAL2</text>
<text x="407.5" y="351.4" font-size="11.5" fill="#1e1e1e" text-anchor="end" font-family="Liberation Serif, serif" stroke="#1e1e1e" stroke-width="0.1" >18</text>
<line x1="378" y1="368.5" x2="418" y2="368.5" stroke="#2a2a2a" stroke-width="1.0"/>
<text x="427" y="372.59999999999997" font-size="12.6" fill="#1e1e1e" text-anchor="start" font-family="Liberation Serif, serif" stroke="#1e1e1e" stroke-width="0.1" >XTAL1</text>
<text x="407.5" y="364.9" font-size="11.5" fill="#1e1e1e" text-anchor="end" font-family="Liberation Serif, serif" stroke="#1e1e1e" stroke-width="0.1" >19</text>
<line x1="378" y1="382.5" x2="418" y2="382.5" stroke="#2a2a2a" stroke-width="1.0"/>
<text x="427" y="386.09999999999997" font-size="12.6" fill="#1e1e1e" text-anchor="start" font-family="Liberation Serif, serif" stroke="#1e1e1e" stroke-width="0.1" >GND</text>
<text x="407.5" y="378.4" font-size="11.5" fill="#1e1e1e" text-anchor="end" font-family="Liberation Serif, serif" stroke="#1e1e1e" stroke-width="0.1" >20</text>
<line x1="534.5" y1="125.5" x2="565" y2="125.5" stroke="#2a2a2a" stroke-width="1.0"/>
<path d="M534.5,122.2 L525.5,125.7 L534.5,129.2 Z" fill="none" stroke="#2a2a2a" stroke-width="1"/>
<text x="517" y="129.6" font-size="12.6" fill="#1e1e1e" text-anchor="end" font-family="Liberation Serif, serif" stroke="#1e1e1e" stroke-width="0.1" >VCC</text>
<text x="536.3" y="121.9" font-size="11.5" fill="#1e1e1e" text-anchor="start" font-family="Liberation Serif, serif" stroke="#1e1e1e" stroke-width="0.1" >40</text>
<line x1="543" y1="139.5" x2="565" y2="139.5" stroke="#2a2a2a" stroke-width="1.0"/>
<path d="M534,136.2 L525,139.2 L534,142.2 M534,136.2 L543,139.2 L534,142.2" fill="none" stroke="#2a2a2a" stroke-width="1"/>
<line x1="534" y1="135.79999999999998" x2="534" y2="142.6" stroke="#2a2a2a" stroke-width="1.8"/>
<text x="517" y="143.1" font-size="12.6" fill="#1e1e1e" text-anchor="end" font-family="Liberation Serif, serif" stroke="#1e1e1e" stroke-width="0.1" >P0.0</text>
<text x="536.3" y="135.39999999999998" font-size="11.5" fill="#1e1e1e" text-anchor="start" font-family="Liberation Serif, serif" stroke="#1e1e1e" stroke-width="0.1" >39</text>
<line x1="543" y1="152.5" x2="565" y2="152.5" stroke="#2a2a2a" stroke-width="1.0"/>
<path d="M534,149.7 L525,152.7 L534,155.7 M534,149.7 L543,152.7 L534,155.7" fill="none" stroke="#2a2a2a" stroke-width="1"/>
<line x1="534" y1="149.29999999999998" x2="534" y2="156.1" stroke="#2a2a2a" stroke-width="1.8"/>
<text x="517" y="156.6" font-size="12.6" fill="#1e1e1e" text-anchor="end" font-family="Liberation Serif, serif" stroke="#1e1e1e" stroke-width="0.1" >P0.1</text>
<text x="536.3" y="148.89999999999998" font-size="11.5" fill="#1e1e1e" text-anchor="start" font-family="Liberation Serif, serif" stroke="#1e1e1e" stroke-width="0.1" >38</text>
<line x1="543" y1="166.5" x2="565" y2="166.5" stroke="#2a2a2a" stroke-width="1.0"/>
<path d="M534,163.2 L525,166.2 L534,169.2 M534,163.2 L543,166.2 L534,169.2" fill="none" stroke="#2a2a2a" stroke-width="1"/>
<line x1="534" y1="162.79999999999998" x2="534" y2="169.6" stroke="#2a2a2a" stroke-width="1.8"/>
<text x="517" y="170.1" font-size="12.6" fill="#1e1e1e" text-anchor="end" font-family="Liberation Serif, serif" stroke="#1e1e1e" stroke-width="0.1" >P0.2</text>
<text x="536.3" y="162.39999999999998" font-size="11.5" fill="#1e1e1e" text-anchor="start" font-family="Liberation Serif, serif" stroke="#1e1e1e" stroke-width="0.1" >37</text>
<line x1="543" y1="179.5" x2="565" y2="179.5" stroke="#2a2a2a" stroke-width="1.0"/>
<path d="M534,176.7 L525,179.7 L534,182.7 M534,176.7 L543,179.7 L534,182.7" fill="none" stroke="#2a2a2a" stroke-width="1"/>
<line x1="534" y1="176.29999999999998" x2="534" y2="183.1" stroke="#2a2a2a" stroke-width="1.8"/>
<text x="517" y="183.6" font-size="12.6" fill="#1e1e1e" text-anchor="end" font-family="Liberation Serif, serif" stroke="#1e1e1e" stroke-width="0.1" >P0.3</text>
<text x="536.3" y="175.89999999999998" font-size="11.5" fill="#1e1e1e" text-anchor="start" font-family="Liberation Serif, serif" stroke="#1e1e1e" stroke-width="0.1" >36</text>
<line x1="543" y1="193.5" x2="565" y2="193.5" stroke="#2a2a2a" stroke-width="1.0"/>
<path d="M534,190.2 L525,193.2 L534,196.2 M534,190.2 L543,193.2 L534,196.2" fill="none" stroke="#2a2a2a" stroke-width="1"/>
<line x1="534" y1="189.79999999999998" x2="534" y2="196.6" stroke="#2a2a2a" stroke-width="1.8"/>
<text x="517" y="197.1" font-size="12.6" fill="#1e1e1e" text-anchor="end" font-family="Liberation Serif, serif" stroke="#1e1e1e" stroke-width="0.1" >P0.4</text>
<text x="536.3" y="189.39999999999998" font-size="11.5" fill="#1e1e1e" text-anchor="start" font-family="Liberation Serif, serif" stroke="#1e1e1e" stroke-width="0.1" >35</text>
<line x1="543" y1="206.5" x2="565" y2="206.5" stroke="#2a2a2a" stroke-width="1.0"/>
<path d="M534,203.7 L525,206.7 L534,209.7 M534,203.7 L543,206.7 L534,209.7" fill="none" stroke="#2a2a2a" stroke-width="1"/>
<line x1="534" y1="203.29999999999998" x2="534" y2="210.1" stroke="#2a2a2a" stroke-width="1.8"/>
<text x="517" y="210.6" font-size="12.6" fill="#1e1e1e" text-anchor="end" font-family="Liberation Serif, serif" stroke="#1e1e1e" stroke-width="0.1" >P0.5</text>
<text x="536.3" y="202.89999999999998" font-size="11.5" fill="#1e1e1e" text-anchor="start" font-family="Liberation Serif, serif" stroke="#1e1e1e" stroke-width="0.1" >34</text>
<line x1="543" y1="220.5" x2="565" y2="220.5" stroke="#2a2a2a" stroke-width="1.0"/>
<path d="M534,217.2 L525,220.2 L534,223.2 M534,217.2 L543,220.2 L534,223.2" fill="none" stroke="#2a2a2a" stroke-width="1"/>
<line x1="534" y1="216.79999999999998" x2="534" y2="223.6" stroke="#2a2a2a" stroke-width="1.8"/>
<text x="517" y="224.1" font-size="12.6" fill="#1e1e1e" text-anchor="end" font-family="Liberation Serif, serif" stroke="#1e1e1e" stroke-width="0.1" >P0.6</text>
<text x="536.3" y="216.39999999999998" font-size="11.5" fill="#1e1e1e" text-anchor="start" font-family="Liberation Serif, serif" stroke="#1e1e1e" stroke-width="0.1" >33</text>
<line x1="543" y1="233.5" x2="565" y2="233.5" stroke="#2a2a2a" stroke-width="1.0"/>
<path d="M534,230.7 L525,233.7 L534,236.7 M534,230.7 L543,233.7 L534,236.7" fill="none" stroke="#2a2a2a" stroke-width="1"/>
<line x1="534" y1="230.29999999999998" x2="534" y2="237.1" stroke="#2a2a2a" stroke-width="1.8"/>
<text x="517" y="237.6" font-size="12.6" fill="#1e1e1e" text-anchor="end" font-family="Liberation Serif, serif" stroke="#1e1e1e" stroke-width="0.1" >P0.7</text>
<text x="536.3" y="229.89999999999998" font-size="11.5" fill="#1e1e1e" text-anchor="start" font-family="Liberation Serif, serif" stroke="#1e1e1e" stroke-width="0.1" >32</text>
<line x1="525" y1="247.5" x2="565" y2="247.5" stroke="#2a2a2a" stroke-width="1.0"/>
<text x="517" y="251.1" font-size="12.6" fill="#1e1e1e" text-anchor="end" font-family="Liberation Serif, serif" stroke="#1e1e1e" stroke-width="0.1" >EA</text>
<line x1="506" y1="241.5" x2="516.5" y2="241.5" stroke="#1e1e1e" stroke-width="0.9"/>
<text x="536.3" y="243.39999999999998" font-size="11.5" fill="#1e1e1e" text-anchor="start" font-family="Liberation Serif, serif" stroke="#1e1e1e" stroke-width="0.1" >31</text>
<line x1="525" y1="260.5" x2="565" y2="260.5" stroke="#2a2a2a" stroke-width="1.0"/>
<text x="517" y="264.59999999999997" font-size="12.6" fill="#1e1e1e" text-anchor="end" font-family="Liberation Serif, serif" stroke="#1e1e1e" stroke-width="0.1" >ALE</text>
<text x="536.3" y="256.9" font-size="11.5" fill="#1e1e1e" text-anchor="start" font-family="Liberation Serif, serif" stroke="#1e1e1e" stroke-width="0.1" >30</text>
<line x1="525" y1="274.5" x2="565" y2="274.5" stroke="#2a2a2a" stroke-width="1.0"/>
<text x="517" y="278.09999999999997" font-size="12.6" fill="#1e1e1e" text-anchor="end" font-family="Liberation Serif, serif" stroke="#1e1e1e" stroke-width="0.1" >PSEN</text>
<line x1="507.5" y1="268.5" x2="516.5" y2="268.5" stroke="#1e1e1e" stroke-width="0.9"/>
<text x="536.3" y="270.4" font-size="11.5" fill="#1e1e1e" text-anchor="start" font-family="Liberation Serif, serif" stroke="#1e1e1e" stroke-width="0.1" >29</text>
<line x1="543" y1="287.5" x2="565" y2="287.5" stroke="#2a2a2a" stroke-width="1.0"/>
<path d="M534,284.7 L525,287.7 L534,290.7 M534,284.7 L543,287.7 L534,290.7" fill="none" stroke="#2a2a2a" stroke-width="1"/>
<line x1="534" y1="284.3" x2="534" y2="291.09999999999997" stroke="#2a2a2a" stroke-width="1.8"/>
<text x="517" y="291.59999999999997" font-size="12.6" fill="#1e1e1e" text-anchor="end" font-family="Liberation Serif, serif" stroke="#1e1e1e" stroke-width="0.1" >P2.7</text>
<text x="536.3" y="283.9" font-size="11.5" fill="#1e1e1e" text-anchor="start" font-family="Liberation Serif, serif" stroke="#1e1e1e" stroke-width="0.1" >28</text>
<line x1="543" y1="301.5" x2="565" y2="301.5" stroke="#2a2a2a" stroke-width="1.0"/>
<path d="M534,298.2 L525,301.2 L534,304.2 M534,298.2 L543,301.2 L534,304.2" fill="none" stroke="#2a2a2a" stroke-width="1"/>
<line x1="534" y1="297.8" x2="534" y2="304.59999999999997" stroke="#2a2a2a" stroke-width="1.8"/>
<text x="517" y="305.09999999999997" font-size="12.6" fill="#1e1e1e" text-anchor="end" font-family="Liberation Serif, serif" stroke="#1e1e1e" stroke-width="0.1" >P2.6</text>
<text x="536.3" y="297.4" font-size="11.5" fill="#1e1e1e" text-anchor="start" font-family="Liberation Serif, serif" stroke="#1e1e1e" stroke-width="0.1" >27</text>
<line x1="543" y1="314.5" x2="565" y2="314.5" stroke="#2a2a2a" stroke-width="1.0"/>
<path d="M534,311.7 L525,314.7 L534,317.7 M534,311.7 L543,314.7 L534,317.7" fill="none" stroke="#2a2a2a" stroke-width="1"/>
<line x1="534" y1="311.3" x2="534" y2="318.09999999999997" stroke="#2a2a2a" stroke-width="1.8"/>
<text x="517" y="318.59999999999997" font-size="12.6" fill="#1e1e1e" text-anchor="end" font-family="Liberation Serif, serif" stroke="#1e1e1e" stroke-width="0.1" >P2.5</text>
<text x="536.3" y="310.9" font-size="11.5" fill="#1e1e1e" text-anchor="start" font-family="Liberation Serif, serif" stroke="#1e1e1e" stroke-width="0.1" >26</text>
<line x1="543" y1="328.5" x2="565" y2="328.5" stroke="#2a2a2a" stroke-width="1.0"/>
<path d="M534,325.2 L525,328.2 L534,331.2 M534,325.2 L543,328.2 L534,331.2" fill="none" stroke="#2a2a2a" stroke-width="1"/>
<line x1="534" y1="324.8" x2="534" y2="331.59999999999997" stroke="#2a2a2a" stroke-width="1.8"/>
<text x="517" y="332.09999999999997" font-size="12.6" fill="#1e1e1e" text-anchor="end" font-family="Liberation Serif, serif" stroke="#1e1e1e" stroke-width="0.1" >P2.4</text>
<text x="536.3" y="324.4" font-size="11.5" fill="#1e1e1e" text-anchor="start" font-family="Liberation Serif, serif" stroke="#1e1e1e" stroke-width="0.1" >25</text>
<line x1="543" y1="341.5" x2="565" y2="341.5" stroke="#2a2a2a" stroke-width="1.0"/>
<path d="M534,338.7 L525,341.7 L534,344.7 M534,338.7 L543,341.7 L534,344.7" fill="none" stroke="#2a2a2a" stroke-width="1"/>
<line x1="534" y1="338.3" x2="534" y2="345.09999999999997" stroke="#2a2a2a" stroke-width="1.8"/>
<text x="517" y="345.59999999999997" font-size="12.6" fill="#1e1e1e" text-anchor="end" font-family="Liberation Serif, serif" stroke="#1e1e1e" stroke-width="0.1" >P2.3</text>
<text x="536.3" y="337.9" font-size="11.5" fill="#1e1e1e" text-anchor="start" font-family="Liberation Serif, serif" stroke="#1e1e1e" stroke-width="0.1" >24</text>
<line x1="543" y1="355.5" x2="565" y2="355.5" stroke="#2a2a2a" stroke-width="1.0"/>
<path d="M534,352.2 L525,355.2 L534,358.2 M534,352.2 L543,355.2 L534,358.2" fill="none" stroke="#2a2a2a" stroke-width="1"/>
<line x1="534" y1="351.8" x2="534" y2="358.59999999999997" stroke="#2a2a2a" stroke-width="1.8"/>
<text x="517" y="359.09999999999997" font-size="12.6" fill="#1e1e1e" text-anchor="end" font-family="Liberation Serif, serif" stroke="#1e1e1e" stroke-width="0.1" >P2.2</text>
<text x="536.3" y="351.4" font-size="11.5" fill="#1e1e1e" text-anchor="start" font-family="Liberation Serif, serif" stroke="#1e1e1e" stroke-width="0.1" >23</text>
<line x1="543" y1="368.5" x2="565" y2="368.5" stroke="#2a2a2a" stroke-width="1.0"/>
<path d="M534,365.7 L525,368.7 L534,371.7 M534,365.7 L543,368.7 L534,371.7" fill="none" stroke="#2a2a2a" stroke-width="1"/>
<line x1="534" y1="365.3" x2="534" y2="372.09999999999997" stroke="#2a2a2a" stroke-width="1.8"/>
<text x="517" y="372.59999999999997" font-size="12.6" fill="#1e1e1e" text-anchor="end" font-family="Liberation Serif, serif" stroke="#1e1e1e" stroke-width="0.1" >P2.1</text>
<text x="536.3" y="364.9" font-size="11.5" fill="#1e1e1e" text-anchor="start" font-family="Liberation Serif, serif" stroke="#1e1e1e" stroke-width="0.1" >22</text>
<line x1="543" y1="382.5" x2="565" y2="382.5" stroke="#2a2a2a" stroke-width="1.0"/>
<path d="M534,379.2 L525,382.2 L534,385.2 M534,379.2 L543,382.2 L534,385.2" fill="none" stroke="#2a2a2a" stroke-width="1"/>
<line x1="534" y1="378.8" x2="534" y2="385.59999999999997" stroke="#2a2a2a" stroke-width="1.8"/>
<text x="517" y="386.09999999999997" font-size="12.6" fill="#1e1e1e" text-anchor="end" font-family="Liberation Serif, serif" stroke="#1e1e1e" stroke-width="0.1" >P2.0</text>
<text x="536.3" y="378.4" font-size="11.5" fill="#1e1e1e" text-anchor="start" font-family="Liberation Serif, serif" stroke="#1e1e1e" stroke-width="0.1" >21</text>
<text x="418" y="405.5" font-size="11" fill="#1f1f8f" text-anchor="start" font-family="Liberation Serif, serif" stroke="#1f1f8f" stroke-width="0.1" >U1</text>
<polyline points="418.5,382.5 378.5,382.5 378.5,395.5" fill="none" stroke="#2a2a2a" stroke-width="1.0"/>
<line x1="364.5" y1="395.5" x2="391.5" y2="395.5" stroke="#922020" stroke-width="1.0"/>
<line x1="369" y1="399.5" x2="387" y2="399.5" stroke="#922020" stroke-width="1.0"/>
<line x1="373" y1="403.5" x2="383" y2="403.5" stroke="#922020" stroke-width="1.0"/>
<line x1="376.5" y1="406.5" x2="379.5" y2="406.5" stroke="#922020" stroke-width="1.0"/>
<text x="378" y="418.5" font-size="12" fill="#8e1b1b" text-anchor="middle" font-family="Liberation Serif, serif" stroke="#8e1b1b" stroke-width="0.1" >GND</text>
<line x1="338" y1="125.5" x2="378" y2="125.5" stroke="#1a1a96" stroke-width="1.0"/>
<text x="350" y="122.3" font-size="12" fill="#8e1b1b" text-anchor="start" font-family="Liberation Serif, serif" stroke="#8e1b1b" stroke-width="0.1" >P1.0</text>
<line x1="338" y1="139.5" x2="378" y2="139.5" stroke="#1a1a96" stroke-width="1.0"/>
<text x="350" y="135.79999999999998" font-size="12" fill="#8e1b1b" text-anchor="start" font-family="Liberation Serif, serif" stroke="#8e1b1b" stroke-width="0.1" >P1.1</text>
<line x1="338" y1="193.5" x2="378" y2="193.5" stroke="#1a1a96" stroke-width="1.0"/>
<text x="350" y="189.79999999999998" font-size="12" fill="#8e1b1b" text-anchor="start" font-family="Liberation Serif, serif" stroke="#8e1b1b" stroke-width="0.1" >P1.5</text>
<text x="12.5" y="184" font-size="12" fill="#8e1b1b" text-anchor="start" font-family="Liberation Serif, serif" stroke="#8e1b1b" stroke-width="0.1" >VCC</text>
<line x1="40.5" y1="172.3" x2="40.5" y2="186.3" stroke="#922020" stroke-width="1.0"/>
<line x1="40.5" y1="179.5" x2="53" y2="179.5" stroke="#922020" stroke-width="1.0"/>
<line x1="53" y1="179.5" x2="68" y2="179.5" stroke="#1a1a96" stroke-width="1.0"/>
<line x1="68" y1="179.5" x2="107" y2="179.5" stroke="#2a2a2a" stroke-width="1.0"/>
<path d="M50.400000000000006,179.5 L53.2,176.7 L56.0,179.5 L53.2,182.3 Z" fill="#1a1a96" stroke="#1a1a96" stroke-width="0.6"/>
<rect x="107.7" y="169.4" width="41" height="2.5" fill="#0000ff"/>
<rect x="122.2" y="165.8" width="12.2" height="3.8" fill="#0000ff"/>
<circle cx="110.3" cy="179.5" r="2.2" fill="#fdfbf6" stroke="#0000ff" stroke-width="1.1"/>
<circle cx="145.3" cy="179.5" r="2.2" fill="#fdfbf6" stroke="#0000ff" stroke-width="1.1"/>
<text x="107" y="161.3" font-size="12" fill="#1f1f8f" text-anchor="start" font-family="Liberation Serif, serif" stroke="#1f1f8f" stroke-width="0.1" >S9</text>
<text x="106.5" y="194.3" font-size="12" fill="#1f1f8f" text-anchor="start" font-family="Liberation Serif, serif" stroke="#1f1f8f" stroke-width="0.1" >SW-PB</text>
<line x1="148.3" y1="179.5" x2="202" y2="179.5" stroke="#2a2a2a" stroke-width="1.0"/>
<rect x="202.3" y="174.5" width="26" height="10" fill="none" stroke="#2a2ad0" stroke-width="1"/>
<text x="202" y="171" font-size="12" fill="#1f1f8f" text-anchor="start" font-family="Liberation Serif, serif" stroke="#1f1f8f" stroke-width="0.1" >R1</text>
<text x="202" y="203.3" font-size="12" fill="#1f1f8f" text-anchor="start" font-family="Liberation Serif, serif" stroke="#1f1f8f" stroke-width="0.1" >1K</text>
<line x1="228.3" y1="179.5" x2="243" y2="179.5" stroke="#2a2a2a" stroke-width="1.0"/>
<polyline points="243.5,179.5 269.5,179.5 269.5,261.5" fill="none" stroke="#1a1a96" stroke-width="1.0"/>
<text x="174.8" y="190.3" font-size="12" fill="#8e1b1b" text-anchor="middle" font-family="Liberation Serif, serif" stroke="#8e1b1b" stroke-width="0.1" >GND</text>
<line x1="161" y1="207.5" x2="188.5" y2="207.5" stroke="#922020" stroke-width="1.0"/>
<line x1="165.5" y1="202.5" x2="184.5" y2="202.5" stroke="#922020" stroke-width="1.0"/>
<line x1="171" y1="198.5" x2="179" y2="198.5" stroke="#922020" stroke-width="1.0"/>
<line x1="173.8" y1="194.5" x2="175.8" y2="194.5" stroke="#922020" stroke-width="1.0"/>
<line x1="175.5" y1="207" x2="175.5" y2="220" stroke="#922020" stroke-width="1.0"/>
<polyline points="175.5,220.5 175.5,233.5 186.5,233.5" fill="none" stroke="#1a1a96" stroke-width="1.0"/>
<line x1="186" y1="233.5" x2="202" y2="233.5" stroke="#2a2a2a" stroke-width="1.0"/>
<rect x="202.3" y="228" width="26" height="10" fill="none" stroke="#2a2ad0" stroke-width="1"/>
<text x="202" y="225" font-size="12" fill="#1f1f8f" text-anchor="start" font-family="Liberation Serif, serif" stroke="#1f1f8f" stroke-width="0.1" >R2</text>
<text x="202" y="257" font-size="12" fill="#1f1f8f" text-anchor="start" font-family="Liberation Serif, serif" stroke="#1f1f8f" stroke-width="0.1" >10K</text>
<line x1="228.3" y1="233.5" x2="243" y2="233.5" stroke="#2a2a2a" stroke-width="1.0"/>
<line x1="243" y1="233.5" x2="378" y2="233.5" stroke="#1a1a96" stroke-width="1.0"/>
<path d="M267.0,233.2 L269.8,230.39999999999998 L272.6,233.2 L269.8,236.0 Z" fill="#1a1a96" stroke="#1a1a96" stroke-width="0.6"/>
<polyline points="53.5,179.5 53.5,233.5 82.5,233.5" fill="none" stroke="#1a1a96" stroke-width="1.0"/>
<line x1="82" y1="233.5" x2="98" y2="233.5" stroke="#2a2a2a" stroke-width="1.0"/>
<line x1="104.5" y1="233.5" x2="121" y2="233.5" stroke="#2a2a2a" stroke-width="1.0"/>
<line x1="98.3" y1="223.3" x2="98.3" y2="244.2" stroke="#2a2ad0" stroke-width="1.3"/>
<line x1="104.3" y1="223.3" x2="104.3" y2="244.2" stroke="#2a2ad0" stroke-width="1.3"/>
<text x="93" y="218" font-size="12" fill="#1f1f8f" text-anchor="start" font-family="Liberation Serif, serif" stroke="#1f1f8f" stroke-width="0.1" >C1</text>
<polyline points="78,246.39999999999998 79.2,248.0 80.4,246.39999999999998 81.6,248.0 82.8,246.39999999999998 84.0,248.0 85.2,246.39999999999998 86.4,248.0 87.6,246.39999999999998 88.8,248.0 90.0,246.39999999999998 91.2,248.0 92.4,246.39999999999998 93.6,248.0 94.8,246.39999999999998 96.0,248.0 97.2,246.39999999999998 98.4,248.0 99.6,246.39999999999998 100.8,248.0 102.0,246.39999999999998 103.2,248.0 104.4,246.39999999999998 105.6,248.0 106.8,246.39999999999998 108.0,248.0 109.2,246.39999999999998 110.4,248.0 111.6,246.39999999999998 112.8,248.0 114.0,246.39999999999998 115.2,248.0 116.4,246.39999999999998 117.6,248.0 118.8,246.39999999999998 120.0,248.0 121.2,246.39999999999998" fill="none" stroke="#ff9a70" stroke-width="1.1"/>
<text x="93" y="256.6" font-size="12" fill="#1f1f8f" text-anchor="start" font-family="Liberation Serif, serif" stroke="#1f1f8f" stroke-width="0.1" >30pf</text>
<polyline points="121.5,233.5 148.5,233.5 148.5,261.5 269.5,261.5" fill="none" stroke="#1a1a96" stroke-width="1.0"/>
<rect x="269.5" y="287.6" width="40" height="39.6" fill="#ffffb4" stroke="#8a1d1d" stroke-width="1.1"/>
<line x1="282.5" y1="287.6" x2="282.5" y2="262" stroke="#2a2a2a" stroke-width="1.0"/>
<polyline points="282.5,262.5 282.5,247.5 378.5,247.5" fill="none" stroke="#1a1a96" stroke-width="1.0"/>
<line x1="296.5" y1="287.6" x2="296.5" y2="262" stroke="#2a2a2a" stroke-width="1.0"/>
<polyline points="296.5,262.5 296.5,260.5 378.5,260.5" fill="none" stroke="#1a1a96" stroke-width="1.0"/>
<text x="287" y="303" font-size="12" fill="#1e1e1e" text-anchor="start" font-family="Liberation Serif, serif" stroke="#1e1e1e" stroke-width="0.1" transform="rotate(-90 287 303)">2</text>
<text x="301" y="303" font-size="12" fill="#1e1e1e" text-anchor="start" font-family="Liberation Serif, serif" stroke="#1e1e1e" stroke-width="0.1" transform="rotate(-90 301 303)">1</text>
<text x="269" y="338.6" font-size="12" fill="#1f1f8f" text-anchor="start" font-family="Liberation Serif, serif" stroke="#1f1f8f" stroke-width="0.1" >P2</text>
<text x="269" y="351.4" font-size="12" fill="#1f1f8f" text-anchor="start" font-family="Liberation Serif, serif" stroke="#1f1f8f" stroke-width="0.1" >Header 2H</text>
<polyline points="378.5,355.5 336.5,355.5 336.5,409.5 202.5,409.5 202.5,517.5" fill="none" stroke="#1a1a96" stroke-width="1.0"/>
<polyline points="378.5,368.5 350.5,368.5 350.5,449.5 323.5,449.5" fill="none" stroke="#1a1a96" stroke-width="1.0"/>
<line x1="202.4" y1="449.5" x2="229" y2="449.5" stroke="#1a1a96" stroke-width="1.0"/>
<line x1="229" y1="449.5" x2="256.6" y2="449.5" stroke="#2a2a2a" stroke-width="1.0"/>
<line x1="270" y1="449.5" x2="296" y2="449.5" stroke="#2a2a2a" stroke-width="1.0"/>
<line x1="296" y1="449.5" x2="323.3" y2="449.5" stroke="#1a1a96" stroke-width="1.0"/>
<line x1="256.6" y1="444.2" x2="256.6" y2="455" stroke="#2a2ad0" stroke-width="1.2"/>
<line x1="269.8" y1="444.2" x2="269.8" y2="455" stroke="#2a2ad0" stroke-width="1.2"/>
<rect x="259.6" y="440.8" width="7.2" height="18.4" fill="none" stroke="#2a2ad0" stroke-width="1.1"/>
<path d="M199.6,449.3 L202.4,446.5 L205.20000000000002,449.3 L202.4,452.1 Z" fill="#1a1a96" stroke="#1a1a96" stroke-width="0.6"/>
<path d="M320.5,449.3 L323.3,446.5 L326.1,449.3 L323.3,452.1 Z" fill="#1a1a96" stroke="#1a1a96" stroke-width="0.6"/>
<text x="262" y="436.3" font-size="12" fill="#1f1f8f" text-anchor="middle" font-family="Liberation Serif, serif" stroke="#1f1f8f" stroke-width="0.1" >Y1</text>
<text x="243" y="447.3" font-size="11" fill="#1e1e1e" text-anchor="middle" font-family="Liberation Serif, serif" stroke="#1e1e1e" stroke-width="0.1" >2</text>
<text x="284" y="447.3" font-size="11" fill="#1e1e1e" text-anchor="middle" font-family="Liberation Serif, serif" stroke="#1e1e1e" stroke-width="0.1" >1</text>
<text x="254.5" y="471.3" font-size="12" fill="#1f1f8f" text-anchor="start" font-family="Liberation Serif, serif" stroke="#1f1f8f" stroke-width="0.1" >11.0592MHz</text>
<line x1="323.5" y1="449.3" x2="323.5" y2="517.3" stroke="#1a1a96" stroke-width="1.0"/>
<line x1="202.4" y1="517.5" x2="222" y2="517.5" stroke="#1a1a96" stroke-width="1.0"/>
<line x1="222" y1="517.5" x2="233.9" y2="517.5" stroke="#2a2a2a" stroke-width="1.0"/>
<line x1="238.1" y1="517.5" x2="252" y2="517.5" stroke="#2a2a2a" stroke-width="1.0"/>
<line x1="252" y1="517.5" x2="276" y2="517.5" stroke="#1a1a96" stroke-width="1.0"/>
<line x1="276" y1="517.5" x2="288" y2="517.5" stroke="#2a2a2a" stroke-width="1.0"/>
<line x1="292.3" y1="517.5" x2="305" y2="517.5" stroke="#2a2a2a" stroke-width="1.0"/>
<line x1="305" y1="517.5" x2="323.3" y2="517.5" stroke="#1a1a96" stroke-width="1.0"/>
<line x1="233.9" y1="506" x2="233.9" y2="527.5" stroke="#2a2ad0" stroke-width="1.3"/>
<line x1="238.1" y1="506" x2="238.1" y2="527.5" stroke="#2a2ad0" stroke-width="1.3"/>
<line x1="288" y1="506" x2="288" y2="527.5" stroke="#2a2ad0" stroke-width="1.3"/>
<line x1="292.3" y1="506" x2="292.3" y2="527.5" stroke="#2a2ad0" stroke-width="1.3"/>
<path d="M266.09999999999997,517.3 L268.9,514.5 L271.7,517.3 L268.9,520.0999999999999 Z" fill="#1a1a96" stroke="#1a1a96" stroke-width="0.6"/>
<line x1="268.5" y1="517.3" x2="268.5" y2="530.5" stroke="#922020" stroke-width="1.0"/>
<line x1="255.39999999999998" y1="530.5" x2="282.4" y2="530.5" stroke="#922020" stroke-width="1.0"/>
<line x1="259.9" y1="534.5" x2="277.9" y2="534.5" stroke="#922020" stroke-width="1.0"/>
<line x1="263.9" y1="538.5" x2="273.9" y2="538.5" stroke="#922020" stroke-width="1.0"/>
<line x1="267.4" y1="542.5" x2="270.4" y2="542.5" stroke="#922020" stroke-width="1.0"/>
<text x="268.9" y="554" font-size="12" fill="#8e1b1b" text-anchor="middle" font-family="Liberation Serif, serif" stroke="#8e1b1b" stroke-width="0.1" >GND</text>
<text x="228" y="502" font-size="12" fill="#1f1f8f" text-anchor="start" font-family="Liberation Serif, serif" stroke="#1f1f8f" stroke-width="0.1" >C1</text>
<text x="282" y="502" font-size="12" fill="#1f1f8f" text-anchor="start" font-family="Liberation Serif, serif" stroke="#1f1f8f" stroke-width="0.1" >C2</text>
<polyline points="212,530.0 213.2,531.5999999999999 214.4,530.0 215.6,531.5999999999999 216.8,530.0 218.0,531.5999999999999 219.2,530.0 220.4,531.5999999999999 221.6,530.0 222.8,531.5999999999999 224.0,530.0 225.2,531.5999999999999 226.4,530.0 227.6,531.5999999999999 228.8,530.0 230.0,531.5999999999999 231.2,530.0 232.4,531.5999999999999 233.6,530.0 234.8,531.5999999999999 236.0,530.0 237.2,531.5999999999999 238.4,530.0 239.6,531.5999999999999 240.8,530.0 242.0,531.5999999999999 243.2,530.0 244.4,531.5999999999999 245.6,530.0 246.8,531.5999999999999 248.0,530.0 249.2,531.5999999999999 250.4,530.0 251.6,531.5999999999999 252.8,530.0 254.0,531.5999999999999 255.2,530.0" fill="none" stroke="#ff9a70" stroke-width="1.1"/>
<text x="228" y="543.3" font-size="12" fill="#1f1f8f" text-anchor="start" font-family="Liberation Serif, serif" stroke="#1f1f8f" stroke-width="0.1" >30pf</text>
<text x="282" y="543.3" font-size="12" fill="#1f1f8f" text-anchor="start" font-family="Liberation Serif, serif" stroke="#1f1f8f" stroke-width="0.1" >30pf</text>
<rect x="648.3" y="112.5" width="38.2" height="133.5" fill="#ffffb4" stroke="#8a1d1d" stroke-width="1.1"/>
<line x1="565" y1="125.5" x2="620.6" y2="125.5" stroke="#1a1a96" stroke-width="1.0"/>
<line x1="620.6" y1="125.5" x2="648.3" y2="125.5" stroke="#2a2a2a" stroke-width="1.0"/>
<text x="659.8" y="128.9" font-size="12" fill="#1e1e1e" text-anchor="middle" font-family="Liberation Serif, serif" stroke="#1e1e1e" stroke-width="0.1" >1</text>
<line x1="565" y1="139.5" x2="620.6" y2="139.5" stroke="#1a1a96" stroke-width="1.0"/>
<line x1="620.6" y1="139.5" x2="648.3" y2="139.5" stroke="#2a2a2a" stroke-width="1.0"/>
<text x="659.8" y="142.39999999999998" font-size="12" fill="#1e1e1e" text-anchor="middle" font-family="Liberation Serif, serif" stroke="#1e1e1e" stroke-width="0.1" >2</text>
<text x="579.5" y="135.79999999999998" font-size="12" fill="#8e1b1b" text-anchor="start" font-family="Liberation Serif, serif" stroke="#8e1b1b" stroke-width="0.1" >P0.0</text>
<line x1="565" y1="152.5" x2="620.6" y2="152.5" stroke="#1a1a96" stroke-width="1.0"/>
<line x1="620.6" y1="152.5" x2="648.3" y2="152.5" stroke="#2a2a2a" stroke-width="1.0"/>
<text x="659.8" y="155.89999999999998" font-size="12" fill="#1e1e1e" text-anchor="middle" font-family="Liberation Serif, serif" stroke="#1e1e1e" stroke-width="0.1" >3</text>
<text x="579.5" y="149.29999999999998" font-size="12" fill="#8e1b1b" text-anchor="start" font-family="Liberation Serif, serif" stroke="#8e1b1b" stroke-width="0.1" >P0.1</text>
<line x1="565" y1="166.5" x2="620.6" y2="166.5" stroke="#1a1a96" stroke-width="1.0"/>
<line x1="620.6" y1="166.5" x2="648.3" y2="166.5" stroke="#2a2a2a" stroke-width="1.0"/>
<text x="659.8" y="169.39999999999998" font-size="12" fill="#1e1e1e" text-anchor="middle" font-family="Liberation Serif, serif" stroke="#1e1e1e" stroke-width="0.1" >4</text>
<text x="579.5" y="162.79999999999998" font-size="12" fill="#8e1b1b" text-anchor="start" font-family="Liberation Serif, serif" stroke="#8e1b1b" stroke-width="0.1" >P0.2</text>
<line x1="565" y1="179.5" x2="620.6" y2="179.5" stroke="#1a1a96" stroke-width="1.0"/>
<line x1="620.6" y1="179.5" x2="648.3" y2="179.5" stroke="#2a2a2a" stroke-width="1.0"/>
<text x="659.8" y="182.89999999999998" font-size="12" fill="#1e1e1e" text-anchor="middle" font-family="Liberation Serif, serif" stroke="#1e1e1e" stroke-width="0.1" >5</text>
<text x="579.5" y="176.29999999999998" font-size="12" fill="#8e1b1b" text-anchor="start" font-family="Liberation Serif, serif" stroke="#8e1b1b" stroke-width="0.1" >P0.3</text>
<line x1="565" y1="193.5" x2="620.6" y2="193.5" stroke="#1a1a96" stroke-width="1.0"/>
<line x1="620.6" y1="193.5" x2="648.3" y2="193.5" stroke="#2a2a2a" stroke-width="1.0"/>
<text x="659.8" y="196.39999999999998" font-size="12" fill="#1e1e1e" text-anchor="middle" font-family="Liberation Serif, serif" stroke="#1e1e1e" stroke-width="0.1" >6</text>
<text x="579.5" y="189.79999999999998" font-size="12" fill="#8e1b1b" text-anchor="start" font-family="Liberation Serif, serif" stroke="#8e1b1b" stroke-width="0.1" >P0.4</text>
<line x1="565" y1="206.5" x2="620.6" y2="206.5" stroke="#1a1a96" stroke-width="1.0"/>
<line x1="620.6" y1="206.5" x2="648.3" y2="206.5" stroke="#2a2a2a" stroke-width="1.0"/>
<text x="659.8" y="209.89999999999998" font-size="12" fill="#1e1e1e" text-anchor="middle" font-family="Liberation Serif, serif" stroke="#1e1e1e" stroke-width="0.1" >7</text>
<text x="579.5" y="203.29999999999998" font-size="12" fill="#8e1b1b" text-anchor="start" font-family="Liberation Serif, serif" stroke="#8e1b1b" stroke-width="0.1" >P0.5</text>
<line x1="565" y1="220.5" x2="620.6" y2="220.5" stroke="#1a1a96" stroke-width="1.0"/>
<line x1="620.6" y1="220.5" x2="648.3" y2="220.5" stroke="#2a2a2a" stroke-width="1.0"/>
<text x="659.8" y="223.39999999999998" font-size="12" fill="#1e1e1e" text-anchor="middle" font-family="Liberation Serif, serif" stroke="#1e1e1e" stroke-width="0.1" >8</text>
<text x="579.5" y="216.79999999999998" font-size="12" fill="#8e1b1b" text-anchor="start" font-family="Liberation Serif, serif" stroke="#8e1b1b" stroke-width="0.1" >P0.6</text>
<line x1="565" y1="233.5" x2="620.6" y2="233.5" stroke="#1a1a96" stroke-width="1.0"/>
<line x1="620.6" y1="233.5" x2="648.3" y2="233.5" stroke="#2a2a2a" stroke-width="1.0"/>
<text x="659.8" y="236.89999999999998" font-size="12" fill="#1e1e1e" text-anchor="middle" font-family="Liberation Serif, serif" stroke="#1e1e1e" stroke-width="0.1" >9</text>
<text x="579.5" y="230.29999999999998" font-size="12" fill="#8e1b1b" text-anchor="start" font-family="Liberation Serif, serif" stroke="#8e1b1b" stroke-width="0.1" >P0.7</text>
<text x="648" y="108.6" font-size="12" fill="#1f1f8f" text-anchor="start" font-family="Liberation Serif, serif" stroke="#1f1f8f" stroke-width="0.1" >P3</text>
<text x="648" y="256.6" font-size="12" fill="#1f1f8f" text-anchor="start" font-family="Liberation Serif, serif" stroke="#1f1f8f" stroke-width="0.1" >Header 9</text>
<text x="580" y="108.6" font-size="12" fill="#8e1b1b" text-anchor="middle" font-family="Liberation Serif, serif" stroke="#8e1b1b" stroke-width="0.1" >VCC</text>
<line x1="573" y1="112.5" x2="586" y2="112.5" stroke="#922020" stroke-width="1.0"/>
<line x1="579.5" y1="112.3" x2="579.5" y2="125.7" stroke="#922020" stroke-width="1.0"/>
<path d="M576.7,125.7 L579.5,122.9 L582.3,125.7 L579.5,128.5 Z" fill="#1a1a96" stroke="#1a1a96" stroke-width="0.6"/>
<rect x="809.3" y="71.7" width="228.4" height="39.7" fill="#ffffb4" stroke="#8a1d1d" stroke-width="1.1"/>
<text x="809" y="68" font-size="10" fill="#1f1f8f" text-anchor="start" font-family="Liberation Serif, serif" stroke="#1f1f8f" stroke-width="0.1" >P1</text>
<text x="826.9" y="102.8" font-size="12" fill="#1e1e1e" text-anchor="start" font-family="Liberation Serif, serif" stroke="#1e1e1e" stroke-width="0.1" transform="rotate(-90 826.9 102.8)">1</text>
<line x1="823.5" y1="111.4" x2="823.5" y2="138.5" stroke="#2a2a2a" stroke-width="1.0"/>
<text x="840.37" y="102.8" font-size="12" fill="#1e1e1e" text-anchor="start" font-family="Liberation Serif, serif" stroke="#1e1e1e" stroke-width="0.1" transform="rotate(-90 840.37 102.8)">2</text>
<line x1="836.5" y1="111.4" x2="836.5" y2="138.5" stroke="#2a2a2a" stroke-width="1.0"/>
<text x="853.84" y="102.8" font-size="12" fill="#1e1e1e" text-anchor="start" font-family="Liberation Serif, serif" stroke="#1e1e1e" stroke-width="0.1" transform="rotate(-90 853.84 102.8)">3</text>
<line x1="850.5" y1="111.4" x2="850.5" y2="138.5" stroke="#2a2a2a" stroke-width="1.0"/>
<text x="867.31" y="102.8" font-size="12" fill="#1e1e1e" text-anchor="start" font-family="Liberation Serif, serif" stroke="#1e1e1e" stroke-width="0.1" transform="rotate(-90 867.31 102.8)">4</text>
<line x1="863.5" y1="111.4" x2="863.5" y2="138.5" stroke="#2a2a2a" stroke-width="1.0"/>
<line x1="863.5" y1="138.5" x2="863.5" y2="152.6" stroke="#1a1a96" stroke-width="1.0"/>
<text x="860.41" y="152.6" font-size="12" fill="#8e1b1b" text-anchor="start" font-family="Liberation Serif, serif" stroke="#8e1b1b" stroke-width="0.1" transform="rotate(-90 860.41 152.6)">P1.0</text>
<text x="880.78" y="102.8" font-size="12" fill="#1e1e1e" text-anchor="start" font-family="Liberation Serif, serif" stroke="#1e1e1e" stroke-width="0.1" transform="rotate(-90 880.78 102.8)">5</text>
<line x1="877.5" y1="111.4" x2="877.5" y2="138.5" stroke="#2a2a2a" stroke-width="1.0"/>
<line x1="877.5" y1="138.5" x2="877.5" y2="152.6" stroke="#1a1a96" stroke-width="1.0"/>
<text x="873.88" y="152.6" font-size="12" fill="#8e1b1b" text-anchor="start" font-family="Liberation Serif, serif" stroke="#8e1b1b" stroke-width="0.1" transform="rotate(-90 873.88 152.6)">P1.1</text>
<text x="894.25" y="102.8" font-size="12" fill="#1e1e1e" text-anchor="start" font-family="Liberation Serif, serif" stroke="#1e1e1e" stroke-width="0.1" transform="rotate(-90 894.25 102.8)">6</text>
<line x1="890.5" y1="111.4" x2="890.5" y2="138.5" stroke="#2a2a2a" stroke-width="1.0"/>
<line x1="890.5" y1="138.5" x2="890.5" y2="152.6" stroke="#1a1a96" stroke-width="1.0"/>
<text x="887.35" y="152.6" font-size="12" fill="#8e1b1b" text-anchor="start" font-family="Liberation Serif, serif" stroke="#8e1b1b" stroke-width="0.1" transform="rotate(-90 887.35 152.6)">P1.5</text>
<text x="907.72" y="102.8" font-size="12" fill="#1e1e1e" text-anchor="start" font-family="Liberation Serif, serif" stroke="#1e1e1e" stroke-width="0.1" transform="rotate(-90 907.72 102.8)">7</text>
<line x1="904.5" y1="111.4" x2="904.5" y2="138.5" stroke="#2a2a2a" stroke-width="1.0"/>
<line x1="904.5" y1="138.5" x2="904.5" y2="152.6" stroke="#1a1a96" stroke-width="1.0"/>
<text x="900.82" y="152.6" font-size="12" fill="#8e1b1b" text-anchor="start" font-family="Liberation Serif, serif" stroke="#8e1b1b" stroke-width="0.1" transform="rotate(-90 900.82 152.6)">P0.0</text>
<text x="921.19" y="102.8" font-size="12" fill="#1e1e1e" text-anchor="start" font-family="Liberation Serif, serif" stroke="#1e1e1e" stroke-width="0.1" transform="rotate(-90 921.19 102.8)">8</text>
<line x1="917.5" y1="111.4" x2="917.5" y2="138.5" stroke="#2a2a2a" stroke-width="1.0"/>
<line x1="917.5" y1="138.5" x2="917.5" y2="152.6" stroke="#1a1a96" stroke-width="1.0"/>
<text x="914.2900000000001" y="152.6" font-size="12" fill="#8e1b1b" text-anchor="start" font-family="Liberation Serif, serif" stroke="#8e1b1b" stroke-width="0.1" transform="rotate(-90 914.2900000000001 152.6)">P0.1</text>
<text x="934.66" y="102.8" font-size="12" fill="#1e1e1e" text-anchor="start" font-family="Liberation Serif, serif" stroke="#1e1e1e" stroke-width="0.1" transform="rotate(-90 934.66 102.8)">9</text>
<line x1="931.5" y1="111.4" x2="931.5" y2="138.5" stroke="#2a2a2a" stroke-width="1.0"/>
<line x1="931.5" y1="138.5" x2="931.5" y2="152.6" stroke="#1a1a96" stroke-width="1.0"/>
<text x="927.76" y="152.6" font-size="12" fill="#8e1b1b" text-anchor="start" font-family="Liberation Serif, serif" stroke="#8e1b1b" stroke-width="0.1" transform="rotate(-90 927.76 152.6)">P0.2</text>
<text x="948.13" y="102.8" font-size="12" fill="#1e1e1e" text-anchor="start" font-family="Liberation Serif, serif" stroke="#1e1e1e" stroke-width="0.1" transform="rotate(-90 948.13 102.8)">10</text>
<line x1="944.5" y1="111.4" x2="944.5" y2="138.5" stroke="#2a2a2a" stroke-width="1.0"/>
<line x1="944.5" y1="138.5" x2="944.5" y2="152.6" stroke="#1a1a96" stroke-width="1.0"/>
<text x="941.23" y="152.6" font-size="12" fill="#8e1b1b" text-anchor="start" font-family="Liberation Serif, serif" stroke="#8e1b1b" stroke-width="0.1" transform="rotate(-90 941.23 152.6)">P0.3</text>
<text x="961.6" y="102.8" font-size="12" fill="#1e1e1e" text-anchor="start" font-family="Liberation Serif, serif" stroke="#1e1e1e" stroke-width="0.1" transform="rotate(-90 961.6 102.8)">11</text>
<line x1="958.5" y1="111.4" x2="958.5" y2="138.5" stroke="#2a2a2a" stroke-width="1.0"/>
<line x1="958.5" y1="138.5" x2="958.5" y2="152.6" stroke="#1a1a96" stroke-width="1.0"/>
<text x="954.7" y="152.6" font-size="12" fill="#8e1b1b" text-anchor="start" font-family="Liberation Serif, serif" stroke="#8e1b1b" stroke-width="0.1" transform="rotate(-90 954.7 152.6)">P0.4</text>
<text x="975.07" y="102.8" font-size="12" fill="#1e1e1e" text-anchor="start" font-family="Liberation Serif, serif" stroke="#1e1e1e" stroke-width="0.1" transform="rotate(-90 975.07 102.8)">12</text>
<line x1="971.5" y1="111.4" x2="971.5" y2="138.5" stroke="#2a2a2a" stroke-width="1.0"/>
<line x1="971.5" y1="138.5" x2="971.5" y2="152.6" stroke="#1a1a96" stroke-width="1.0"/>
<text x="968.1700000000001" y="152.6" font-size="12" fill="#8e1b1b" text-anchor="start" font-family="Liberation Serif, serif" stroke="#8e1b1b" stroke-width="0.1" transform="rotate(-90 968.1700000000001 152.6)">P0.5</text>
<text x="988.54" y="102.8" font-size="12" fill="#1e1e1e" text-anchor="start" font-family="Liberation Serif, serif" stroke="#1e1e1e" stroke-width="0.1" transform="rotate(-90 988.54 102.8)">13</text>
<line x1="985.5" y1="111.4" x2="985.5" y2="138.5" stroke="#2a2a2a" stroke-width="1.0"/>
<line x1="985.5" y1="138.5" x2="985.5" y2="152.6" stroke="#1a1a96" stroke-width="1.0"/>
<text x="981.64" y="152.6" font-size="12" fill="#8e1b1b" text-anchor="start" font-family="Liberation Serif, serif" stroke="#8e1b1b" stroke-width="0.1" transform="rotate(-90 981.64 152.6)">P0.6</text>
<text x="1002.01" y="102.8" font-size="12" fill="#1e1e1e" text-anchor="start" font-family="Liberation Serif, serif" stroke="#1e1e1e" stroke-width="0.1" transform="rotate(-90 1002.01 102.8)">14</text>
<line x1="998.5" y1="111.4" x2="998.5" y2="138.5" stroke="#2a2a2a" stroke-width="1.0"/>
<line x1="998.5" y1="138.5" x2="998.5" y2="152.6" stroke="#1a1a96" stroke-width="1.0"/>
<text x="995.11" y="152.6" font-size="12" fill="#8e1b1b" text-anchor="start" font-family="Liberation Serif, serif" stroke="#8e1b1b" stroke-width="0.1" transform="rotate(-90 995.11 152.6)">P0.7</text>
<text x="1015.48" y="102.8" font-size="12" fill="#1e1e1e" text-anchor="start" font-family="Liberation Serif, serif" stroke="#1e1e1e" stroke-width="0.1" transform="rotate(-90 1015.48 102.8)">15</text>
<line x1="1011.5" y1="111.4" x2="1011.5" y2="138.5" stroke="#2a2a2a" stroke-width="1.0"/>
<text x="1028.95" y="102.8" font-size="12" fill="#1e1e1e" text-anchor="start" font-family="Liberation Serif, serif" stroke="#1e1e1e" stroke-width="0.1" transform="rotate(-90 1028.95 102.8)">16</text>
<line x1="1025.5" y1="111.4" x2="1025.5" y2="138.5" stroke="#2a2a2a" stroke-width="1.0"/>
<polyline points="823.5,138.5 823.5,166.5 809.5,166.5 809.5,139.5 769.5,139.5" fill="none" stroke="#1a1a96" stroke-width="1.0"/>
<path d="M766.2,139.2 L769,136.39999999999998 L771.8,139.2 L769,142.0 Z" fill="#1a1a96" stroke="#1a1a96" stroke-width="0.6"/>
<line x1="836.5" y1="138.5" x2="836.5" y2="152.6" stroke="#1a1a96" stroke-width="1.0"/>
<line x1="836.5" y1="152.6" x2="836.5" y2="166.5" stroke="#922020" stroke-width="1.0"/>
<line x1="830.37" y1="166.5" x2="843.37" y2="166.5" stroke="#922020" stroke-width="1.0"/>
<text x="836.87" y="177.3" font-size="12" fill="#8e1b1b" text-anchor="middle" font-family="Liberation Serif, serif" stroke="#8e1b1b" stroke-width="0.1" >VCC</text>
<polyline points="850.5,138.5 850.5,192.5 823.5,192.5" fill="none" stroke="#1a1a96" stroke-width="1.0"/>
<line x1="823" y1="192.5" x2="795.6" y2="192.5" stroke="#2a2a2a" stroke-width="1.0"/>
<line x1="1011.5" y1="138.5" x2="1011.5" y2="152.6" stroke="#1a1a96" stroke-width="1.0"/>
<line x1="1011.5" y1="152.6" x2="1011.5" y2="166.3" stroke="#922020" stroke-width="1.0"/>
<line x1="1005.48" y1="166.5" x2="1018.48" y2="166.5" stroke="#922020" stroke-width="1.0"/>
<text x="1011.98" y="176.5" font-size="12" fill="#8e1b1b" text-anchor="middle" font-family="Liberation Serif, serif" stroke="#8e1b1b" stroke-width="0.1" >VCC</text>
<line x1="1025.5" y1="138.5" x2="1025.5" y2="180" stroke="#1a1a96" stroke-width="1.0"/>
<line x1="1025.5" y1="180" x2="1025.5" y2="192.7" stroke="#922020" stroke-width="1.0"/>
<line x1="1011.95" y1="192.5" x2="1038.95" y2="192.5" stroke="#922020" stroke-width="1.0"/>
<line x1="1016.45" y1="197.5" x2="1034.45" y2="197.5" stroke="#922020" stroke-width="1.0"/>
<line x1="1020.45" y1="200.5" x2="1030.45" y2="200.5" stroke="#922020" stroke-width="1.0"/>
<line x1="1023.95" y1="204.5" x2="1026.95" y2="204.5" stroke="#922020" stroke-width="1.0"/>
<text x="1025.45" y="216.3" font-size="12" fill="#8e1b1b" text-anchor="middle" font-family="Liberation Serif, serif" stroke="#8e1b1b" stroke-width="0.1" >GND</text>
<text x="769" y="95.5" font-size="12" fill="#8e1b1b" text-anchor="middle" font-family="Liberation Serif, serif" stroke="#8e1b1b" stroke-width="0.1" >GND</text>
<line x1="755.3" y1="112.5" x2="782.3" y2="112.5" stroke="#922020" stroke-width="1.0"/>
<line x1="759.5" y1="107.5" x2="778.5" y2="107.5" stroke="#922020" stroke-width="1.0"/>
<line x1="766.5" y1="102.5" x2="771.5" y2="102.5" stroke="#922020" stroke-width="1.0"/>
<line x1="769.5" y1="112.3" x2="769.5" y2="125" stroke="#922020" stroke-width="1.0"/>
<line x1="769.5" y1="125" x2="769.5" y2="150" stroke="#1a1a96" stroke-width="1.0"/>
<line x1="769.5" y1="150" x2="769.5" y2="179" stroke="#2a2a2a" stroke-width="1.0"/>
<line x1="769.5" y1="179" x2="769.5" y2="183.5" stroke="#0000ff" stroke-width="1.0"/>
<path d="M763,183.1 L775,183.1 L769.5,189.2 Z" fill="#0000ff"/>
<text x="715.5" y="176" font-size="12" fill="#8e1b1b" text-anchor="middle" font-family="Liberation Serif, serif" stroke="#8e1b1b" stroke-width="0.1" >VCC</text>
<line x1="709" y1="179.5" x2="722" y2="179.5" stroke="#922020" stroke-width="1.0"/>
<line x1="715.5" y1="179.2" x2="715.5" y2="192.7" stroke="#922020" stroke-width="1.0"/>
<line x1="715.5" y1="192.5" x2="741.5" y2="192.5" stroke="#2a2a2a" stroke-width="1.0"/>
<polyline points="741.5,192.8 748.6,192.8 753.5,188.7 760.9,197.4 769.7,189.6 777.1,197.4 785.5,188.7 789.4,192.8 795.6,192.8" fill="none" stroke="#5050f0" stroke-width="1.2"/>
<text x="740" y="209.3" font-size="12" fill="#1f1f8f" text-anchor="start" font-family="Liberation Serif, serif" stroke="#1f1f8f" stroke-width="0.1" >R4</text>
<text x="740.5" y="222.3" font-size="12" fill="#1f1f8f" text-anchor="start" font-family="Liberation Serif, serif" stroke="#1f1f8f" stroke-width="0.1" >10k</text>
<line x1="565" y1="287.5" x2="958" y2="287.5" stroke="#1a1a96" stroke-width="1.0"/>
<line x1="958" y1="287.5" x2="986.8" y2="287.5" stroke="#2a2a2a" stroke-width="1.0"/>
<line x1="565" y1="301.5" x2="878" y2="301.5" stroke="#1a1a96" stroke-width="1.0"/>
<line x1="878" y1="301.5" x2="906.3" y2="301.5" stroke="#2a2a2a" stroke-width="1.0"/>
<line x1="565" y1="314.5" x2="755.5" y2="314.5" stroke="#1a1a96" stroke-width="1.0"/>
<line x1="755.5" y1="314.5" x2="784.8" y2="314.5" stroke="#2a2a2a" stroke-width="1.0"/>
<line x1="565" y1="328.5" x2="620.5" y2="328.5" stroke="#1a1a96" stroke-width="1.0"/>
<line x1="620.5" y1="328.5" x2="650" y2="328.5" stroke="#2a2a2a" stroke-width="1.0"/>
<line x1="565" y1="341.5" x2="958" y2="341.5" stroke="#1a1a96" stroke-width="1.0"/>
<line x1="958" y1="341.5" x2="986.8" y2="341.5" stroke="#2a2a2a" stroke-width="1.0"/>
<line x1="565" y1="355.5" x2="837.5" y2="355.5" stroke="#1a1a96" stroke-width="1.0"/>
<line x1="837.5" y1="355.5" x2="865.8" y2="355.5" stroke="#2a2a2a" stroke-width="1.0"/>
<line x1="565" y1="368.5" x2="730" y2="368.5" stroke="#1a1a96" stroke-width="1.0"/>
<line x1="730" y1="368.5" x2="757.3" y2="368.5" stroke="#2a2a2a" stroke-width="1.0"/>
<line x1="565" y1="382.5" x2="620.5" y2="382.5" stroke="#1a1a96" stroke-width="1.0"/>
<line x1="620.5" y1="382.5" x2="650" y2="382.5" stroke="#2a2a2a" stroke-width="1.0"/>
<rect x="984.1999999999999" y="277.5" width="41" height="2.5" fill="#0000ff"/>
<rect x="998.6999999999999" y="273.90000000000003" width="12.2" height="3.8" fill="#0000ff"/>
<circle cx="986.8" cy="287.6" r="2.2" fill="#fdfbf6" stroke="#0000ff" stroke-width="1.1"/>
<circle cx="1022.3" cy="287.6" r="2.2" fill="#fdfbf6" stroke="#0000ff" stroke-width="1.1"/>
<text x="1004.5" y="297.90000000000003" font-size="12" fill="#1f1f8f" text-anchor="middle" font-family="Liberation Serif, serif" stroke="#1f1f8f" stroke-width="0.1" >S8</text>
<line x1="1025.3" y1="287.5" x2="1052.8" y2="287.5" stroke="#2a2a2a" stroke-width="1.0"/>
<line x1="1052.5" y1="287.6" x2="1052.5" y2="301.20000000000005" stroke="#922020" stroke-width="1.0"/>
<line x1="1039.3" y1="301.5" x2="1066.3" y2="301.5" stroke="#922020" stroke-width="1.0"/>
<line x1="1043.8" y1="305.5" x2="1061.8" y2="305.5" stroke="#922020" stroke-width="1.0"/>
<line x1="1047.8" y1="309.5" x2="1057.8" y2="309.5" stroke="#922020" stroke-width="1.0"/>
<line x1="1051.3" y1="312.5" x2="1054.3" y2="312.5" stroke="#922020" stroke-width="1.0"/>
<text x="1052.8" y="324.40000000000003" font-size="12" fill="#8e1b1b" text-anchor="middle" font-family="Liberation Serif, serif" stroke="#8e1b1b" stroke-width="0.1" >GND</text>
<rect x="903.6999999999999" y="291.0" width="41" height="2.5" fill="#0000ff"/>
<rect x="918.1999999999999" y="287.40000000000003" width="12.2" height="3.8" fill="#0000ff"/>
<circle cx="906.3" cy="301.1" r="2.2" fill="#fdfbf6" stroke="#0000ff" stroke-width="1.1"/>
<circle cx="941.8" cy="301.1" r="2.2" fill="#fdfbf6" stroke="#0000ff" stroke-width="1.1"/>
<text x="924.0" y="311.40000000000003" font-size="12" fill="#1f1f8f" text-anchor="middle" font-family="Liberation Serif, serif" stroke="#1f1f8f" stroke-width="0.1" >S7</text>
<line x1="944.8" y1="301.5" x2="971.5" y2="301.5" stroke="#2a2a2a" stroke-width="1.0"/>
<line x1="971.5" y1="301.1" x2="971.5" y2="314.70000000000005" stroke="#922020" stroke-width="1.0"/>
<line x1="958.0" y1="314.5" x2="985.0" y2="314.5" stroke="#922020" stroke-width="1.0"/>
<line x1="962.5" y1="319.5" x2="980.5" y2="319.5" stroke="#922020" stroke-width="1.0"/>
<line x1="966.5" y1="322.5" x2="976.5" y2="322.5" stroke="#922020" stroke-width="1.0"/>
<line x1="970.0" y1="326.5" x2="973.0" y2="326.5" stroke="#922020" stroke-width="1.0"/>
<text x="971.5" y="337.90000000000003" font-size="12" fill="#8e1b1b" text-anchor="middle" font-family="Liberation Serif, serif" stroke="#8e1b1b" stroke-width="0.1" >GND</text>
<rect x="984.1999999999999" y="331.5" width="41" height="2.5" fill="#0000ff"/>
<rect x="998.6999999999999" y="327.90000000000003" width="12.2" height="3.8" fill="#0000ff"/>
<circle cx="986.8" cy="341.6" r="2.2" fill="#fdfbf6" stroke="#0000ff" stroke-width="1.1"/>
<circle cx="1022.3" cy="341.6" r="2.2" fill="#fdfbf6" stroke="#0000ff" stroke-width="1.1"/>
<text x="1004.5" y="351.90000000000003" font-size="12" fill="#1f1f8f" text-anchor="middle" font-family="Liberation Serif, serif" stroke="#1f1f8f" stroke-width="0.1" >S4</text>
<line x1="1025.3" y1="341.5" x2="1052.8" y2="341.5" stroke="#2a2a2a" stroke-width="1.0"/>
<line x1="1052.5" y1="341.6" x2="1052.5" y2="355.20000000000005" stroke="#922020" stroke-width="1.0"/>
<line x1="1039.3" y1="355.5" x2="1066.3" y2="355.5" stroke="#922020" stroke-width="1.0"/>
<line x1="1043.8" y1="359.5" x2="1061.8" y2="359.5" stroke="#922020" stroke-width="1.0"/>
<line x1="1047.8" y1="363.5" x2="1057.8" y2="363.5" stroke="#922020" stroke-width="1.0"/>
<line x1="1051.3" y1="366.5" x2="1054.3" y2="366.5" stroke="#922020" stroke-width="1.0"/>
<text x="1052.8" y="378.40000000000003" font-size="12" fill="#8e1b1b" text-anchor="middle" font-family="Liberation Serif, serif" stroke="#8e1b1b" stroke-width="0.1" >GND</text>
<rect x="863.1999999999999" y="345.0" width="41" height="2.5" fill="#0000ff"/>
<rect x="877.6999999999999" y="341.40000000000003" width="12.2" height="3.8" fill="#0000ff"/>
<circle cx="865.8" cy="355.1" r="2.2" fill="#fdfbf6" stroke="#0000ff" stroke-width="1.1"/>
<circle cx="901.3" cy="355.1" r="2.2" fill="#fdfbf6" stroke="#0000ff" stroke-width="1.1"/>
<text x="883.5" y="365.40000000000003" font-size="12" fill="#1f1f8f" text-anchor="middle" font-family="Liberation Serif, serif" stroke="#1f1f8f" stroke-width="0.1" >S3</text>
<line x1="904.3" y1="355.5" x2="930.8" y2="355.5" stroke="#2a2a2a" stroke-width="1.0"/>
<line x1="930.5" y1="355.1" x2="930.5" y2="368.70000000000005" stroke="#922020" stroke-width="1.0"/>
<line x1="917.3" y1="368.5" x2="944.3" y2="368.5" stroke="#922020" stroke-width="1.0"/>
<line x1="921.8" y1="373.5" x2="939.8" y2="373.5" stroke="#922020" stroke-width="1.0"/>
<line x1="925.8" y1="376.5" x2="935.8" y2="376.5" stroke="#922020" stroke-width="1.0"/>
<line x1="929.3" y1="380.5" x2="932.3" y2="380.5" stroke="#922020" stroke-width="1.0"/>
<text x="930.8" y="391.90000000000003" font-size="12" fill="#8e1b1b" text-anchor="middle" font-family="Liberation Serif, serif" stroke="#8e1b1b" stroke-width="0.1" >GND</text>
<rect x="754.6999999999999" y="358.5" width="41" height="2.5" fill="#0000ff"/>
<rect x="769.1999999999999" y="354.90000000000003" width="12.2" height="3.8" fill="#0000ff"/>
<circle cx="757.3" cy="368.6" r="2.2" fill="#fdfbf6" stroke="#0000ff" stroke-width="1.1"/>
<circle cx="792.8" cy="368.6" r="2.2" fill="#fdfbf6" stroke="#0000ff" stroke-width="1.1"/>
<text x="775.0" y="378.90000000000003" font-size="12" fill="#1f1f8f" text-anchor="middle" font-family="Liberation Serif, serif" stroke="#1f1f8f" stroke-width="0.1" >S2</text>
<line x1="795.8" y1="368.5" x2="823" y2="368.5" stroke="#2a2a2a" stroke-width="1.0"/>
<line x1="823.5" y1="368.6" x2="823.5" y2="382.20000000000005" stroke="#922020" stroke-width="1.0"/>
<line x1="809.5" y1="382.5" x2="836.5" y2="382.5" stroke="#922020" stroke-width="1.0"/>
<line x1="814" y1="386.5" x2="832" y2="386.5" stroke="#922020" stroke-width="1.0"/>
<line x1="818" y1="390.5" x2="828" y2="390.5" stroke="#922020" stroke-width="1.0"/>
<line x1="821.5" y1="393.5" x2="824.5" y2="393.5" stroke="#922020" stroke-width="1.0"/>
<text x="823" y="405.40000000000003" font-size="12" fill="#8e1b1b" text-anchor="middle" font-family="Liberation Serif, serif" stroke="#8e1b1b" stroke-width="0.1" >GND</text>
<rect x="647.4" y="372.0" width="41" height="2.5" fill="#0000ff"/>
<rect x="661.9" y="368.40000000000003" width="12.2" height="3.8" fill="#0000ff"/>
<circle cx="650" cy="382.1" r="2.2" fill="#fdfbf6" stroke="#0000ff" stroke-width="1.1"/>
<circle cx="685.5" cy="382.1" r="2.2" fill="#fdfbf6" stroke="#0000ff" stroke-width="1.1"/>
<text x="667.7" y="392.40000000000003" font-size="12" fill="#1f1f8f" text-anchor="middle" font-family="Liberation Serif, serif" stroke="#1f1f8f" stroke-width="0.1" >S1</text>
<line x1="688.5" y1="382.5" x2="714.8" y2="382.5" stroke="#2a2a2a" stroke-width="1.0"/>
<line x1="714.5" y1="382.1" x2="714.5" y2="395.70000000000005" stroke="#922020" stroke-width="1.0"/>
<line x1="701.3" y1="395.5" x2="728.3" y2="395.5" stroke="#922020" stroke-width="1.0"/>
<line x1="705.8" y1="400.5" x2="723.8" y2="400.5" stroke="#922020" stroke-width="1.0"/>
<line x1="709.8" y1="403.5" x2="719.8" y2="403.5" stroke="#922020" stroke-width="1.0"/>
<line x1="713.3" y1="407.5" x2="716.3" y2="407.5" stroke="#922020" stroke-width="1.0"/>
<text x="714.8" y="418.90000000000003" font-size="12" fill="#8e1b1b" text-anchor="middle" font-family="Liberation Serif, serif" stroke="#8e1b1b" stroke-width="0.1" >GND</text>
<rect x="782.1999999999999" y="304.5" width="41" height="2.5" fill="#0000ff"/>
<rect x="796.6999999999999" y="300.90000000000003" width="12.2" height="3.8" fill="#0000ff"/>
<circle cx="784.8" cy="314.6" r="2.2" fill="#fdfbf6" stroke="#0000ff" stroke-width="1.1"/>
<circle cx="820.3" cy="314.6" r="2.2" fill="#fdfbf6" stroke="#0000ff" stroke-width="1.1"/>
<text x="802.5" y="324.90000000000003" font-size="12" fill="#1f1f8f" text-anchor="middle" font-family="Liberation Serif, serif" stroke="#1f1f8f" stroke-width="0.1" >S6</text>
<line x1="823.3" y1="314.5" x2="850" y2="314.5" stroke="#2a2a2a" stroke-width="1.0"/>
<line x1="850" y1="314.5" x2="863.6" y2="314.5" stroke="#922020" stroke-width="1.0"/>
<line x1="863.5" y1="301.5" x2="863.5" y2="327.70000000000005" stroke="#922020" stroke-width="1.0"/>
<line x1="867.5" y1="305.20000000000005" x2="867.5" y2="324.0" stroke="#922020" stroke-width="1.0"/>
<line x1="871.5" y1="309.40000000000003" x2="871.5" y2="319.8" stroke="#922020" stroke-width="1.0"/>
<rect x="874.9" y="313.3" width="1.6" height="2.6" fill="#922020"/>
<text x="879.6" y="318.0" font-size="12" fill="#8e1b1b" text-anchor="start" font-family="Liberation Serif, serif" stroke="#8e1b1b" stroke-width="0.1" >GND</text>
<rect x="647.4" y="318.0" width="41" height="2.5" fill="#0000ff"/>
<rect x="661.9" y="314.40000000000003" width="12.2" height="3.8" fill="#0000ff"/>
<circle cx="650" cy="328.1" r="2.2" fill="#fdfbf6" stroke="#0000ff" stroke-width="1.1"/>
<circle cx="685.5" cy="328.1" r="2.2" fill="#fdfbf6" stroke="#0000ff" stroke-width="1.1"/>
<text x="667.7" y="338.40000000000003" font-size="12" fill="#1f1f8f" text-anchor="middle" font-family="Liberation Serif, serif" stroke="#1f1f8f" stroke-width="0.1" >S5</text>
<line x1="688.5" y1="328.5" x2="712" y2="328.5" stroke="#2a2a2a" stroke-width="1.0"/>
<line x1="712" y1="328.5" x2="728.5" y2="328.5" stroke="#922020" stroke-width="1.0"/>
<line x1="728.5" y1="315.0" x2="728.5" y2="341.20000000000005" stroke="#922020" stroke-width="1.0"/>
<line x1="732.5" y1="318.70000000000005" x2="732.5" y2="337.5" stroke="#922020" stroke-width="1.0"/>
<line x1="736.5" y1="322.90000000000003" x2="736.5" y2="333.3" stroke="#922020" stroke-width="1.0"/>
<rect x="739.9" y="326.8" width="1.6" height="2.6" fill="#922020"/>
<text x="750.7" y="331.5" font-size="12" fill="#8e1b1b" text-anchor="start" font-family="Liberation Serif, serif" stroke="#8e1b1b" stroke-width="0.1" >GND</text>
<polyline points="687.5,490.5 512.5,490.5 512.5,530.5 463.5,530.5 463.5,518.5" fill="none" stroke="#1a1a96" stroke-width="1.0"/>
<line x1="687.5" y1="490.5" x2="701.3" y2="490.5" stroke="#922020" stroke-width="1.0"/>
<line x1="701.5" y1="477.29999999999995" x2="701.5" y2="503.5" stroke="#922020" stroke-width="1.0"/>
<line x1="705.5" y1="481.0" x2="705.5" y2="499.79999999999995" stroke="#922020" stroke-width="1.0"/>
<line x1="709.5" y1="485.2" x2="709.5" y2="495.59999999999997" stroke="#922020" stroke-width="1.0"/>
<rect x="712.9" y="489.09999999999997" width="1.6" height="2.6" fill="#922020"/>
<text x="717.8" y="493.79999999999995" font-size="12" fill="#8e1b1b" text-anchor="start" font-family="Liberation Serif, serif" stroke="#8e1b1b" stroke-width="0.1" >GND</text>
<path d="M459.8,521.3 L463.3,517.3 L466.8,521.3" fill="none" stroke="#1a1a96" stroke-width="1"/>
<line x1="455" y1="516.5" x2="490" y2="516.5" stroke="#1a1a96" stroke-width="1.0"/>
<line x1="490" y1="516.5" x2="512.5" y2="516.5" stroke="#2a2a2a" stroke-width="1.0"/>
<line x1="490" y1="530.5" x2="512.5" y2="530.5" stroke="#2a2a2a" stroke-width="1.0"/>
<polyline points="445.2,516.6 450.6,522.5 455.6,516.6" fill="none" stroke="#1a1a96" stroke-width="1.0"/>
<path d="M509.7,516.6 L512.5,513.8000000000001 L515.3,516.6 L512.5,519.4 Z" fill="#1a1a96" stroke="#1a1a96" stroke-width="0.6"/>
<text x="497" y="513.5" font-size="11" fill="#1e1e1e" text-anchor="start" font-family="Liberation Serif, serif" stroke="#1e1e1e" stroke-width="0.1" >3</text>
<text x="497" y="527" font-size="11" fill="#1e1e1e" text-anchor="start" font-family="Liberation Serif, serif" stroke="#1e1e1e" stroke-width="0.1" >2</text>
<text x="497" y="540.6" font-size="11" fill="#1e1e1e" text-anchor="start" font-family="Liberation Serif, serif" stroke="#1e1e1e" stroke-width="0.1" >1</text>
<path d="M450.7,539 L486.2,539 L486.2,549 L450.7,549 L444.8,543.8 Z" fill="none" stroke="#1a1a96" stroke-width="1"/>
<line x1="486.2" y1="543.5" x2="512.5" y2="543.5" stroke="#2a2a2a" stroke-width="1.0"/>
<polyline points="512.5,543.5 512.5,611.5 687.5,611.5" fill="none" stroke="#1a1a96" stroke-width="1.0"/>
<line x1="687.5" y1="611.5" x2="701.3" y2="611.5" stroke="#922020" stroke-width="1.0"/>
<line x1="701.5" y1="604.7" x2="701.5" y2="617" stroke="#922020" stroke-width="1.0"/>
<text x="704.5" y="616" font-size="12" fill="#8e1b1b" text-anchor="start" font-family="Liberation Serif, serif" stroke="#8e1b1b" stroke-width="0.1" >VCC</text>
<text x="445" y="510.3" font-size="12.5" fill="#6a6ab0" text-anchor="start" font-family="Liberation Serif, serif" stroke="#6a6ab0" stroke-width="0.1" >电源插座</text>
<text x="445" y="561.5" font-size="12.5" fill="#6a6ab0" text-anchor="start" font-family="Liberation Serif, serif" stroke="#6a6ab0" stroke-width="0.1" >电源插座</text>
<path d="M550.2,490.4 L553,487.59999999999997 L555.8,490.4 L553,493.2 Z" fill="#1a1a96" stroke="#1a1a96" stroke-width="0.6"/>
<path d="M604.0,490.4 L606.8,487.59999999999997 L609.5999999999999,490.4 L606.8,493.2 Z" fill="#1a1a96" stroke="#1a1a96" stroke-width="0.6"/>
<path d="M550.2,611.8 L553,609.0 L555.8,611.8 L553,614.5999999999999 Z" fill="#1a1a96" stroke="#1a1a96" stroke-width="0.6"/>
<path d="M604.0,611.8 L606.8,609.0 L609.5999999999999,611.8 L606.8,614.5999999999999 Z" fill="#1a1a96" stroke="#1a1a96" stroke-width="0.6"/>
<line x1="553.5" y1="490.4" x2="553.5" y2="527.7" stroke="#1a1a96" stroke-width="1.0"/>
<line x1="553.5" y1="527.7" x2="553.5" y2="548.8" stroke="#2a2a2a" stroke-width="1.0"/>
<line x1="553.5" y1="553.5" x2="553.5" y2="575" stroke="#2a2a2a" stroke-width="1.0"/>
<line x1="553.5" y1="575" x2="553.5" y2="611.8" stroke="#1a1a96" stroke-width="1.0"/>
<line x1="543" y1="548.8" x2="563" y2="548.8" stroke="#2a2ad0" stroke-width="1.3"/>
<line x1="543" y1="553.5" x2="563" y2="553.5" stroke="#2a2ad0" stroke-width="1.3"/>
<text x="565" y="553.5" font-size="12" fill="#1f1f8f" text-anchor="start" font-family="Liberation Serif, serif" stroke="#1f1f8f" stroke-width="0.1" >C3</text>
<text x="565" y="568" font-size="12" fill="#1f1f8f" text-anchor="start" font-family="Liberation Serif, serif" stroke="#1f1f8f" stroke-width="0.1" >30p</text>
<line x1="606.5" y1="490.4" x2="606.5" y2="517.6" stroke="#2a2a2a" stroke-width="1.0"/>
<line x1="593.5" y1="517.6" x2="620.5" y2="517.6" stroke="#0000ff" stroke-width="1.6"/>
<path d="M606.8,517.6 L621,531 L592.6,531 Z" fill="#0000ff"/>
<line x1="606.5" y1="531" x2="606.5" y2="558.3" stroke="#2a2a2a" stroke-width="1.0"/>
<rect x="601.7" y="558.3" width="10.4" height="25.2" fill="none" stroke="#2a2ad0" stroke-width="1"/>
<line x1="606.5" y1="583.5" x2="606.5" y2="598" stroke="#2a2a2a" stroke-width="1.0"/>
<line x1="606.5" y1="598" x2="606.5" y2="611.8" stroke="#1a1a96" stroke-width="1.0"/>
<line x1="594.6" y1="511.3" x2="586.2" y2="503.9" stroke="#0000ff" stroke-width="0.9"/>
<path d="M584.2,501.9 L589.4000000000001,503.09999999999997 L585.5,506.9 Z" fill="#0000ff"/>
<line x1="588.6" y1="517.3" x2="580.2" y2="509.3" stroke="#0000ff" stroke-width="0.9"/>
<path d="M578.2,507.3 L583.4000000000001,508.5 L579.5,512.3 Z" fill="#0000ff"/>
<text x="622" y="511" font-size="12" fill="#1f1f8f" text-anchor="start" font-family="Liberation Serif, serif" stroke="#1f1f8f" stroke-width="0.1" >D1</text>
<text x="622" y="524.6" font-size="12" fill="#1f1f8f" text-anchor="start" font-family="Liberation Serif, serif" stroke="#1f1f8f" stroke-width="0.1" >LED1</text>
<text x="612" y="567.4" font-size="12" fill="#1f1f8f" text-anchor="start" font-family="Liberation Serif, serif" stroke="#1f1f8f" stroke-width="0.1" >R3</text>
<text x="612" y="581" font-size="12" fill="#1f1f8f" text-anchor="start" font-family="Liberation Serif, serif" stroke="#1f1f8f" stroke-width="0.1" >Res2th</text>
<text x="612" y="594.4" font-size="12" fill="#1f1f8f" text-anchor="start" font-family="Liberation Serif, serif" stroke="#1f1f8f" stroke-width="0.1" >1K</text>
<text x="392.5" y="430" font-size="26" fill="#10107e" text-anchor="start" font-family="Liberation Sans, sans-serif"  font-weight="500">单片机最小系统</text>
<text x="879" y="201" font-size="26" fill="#10107e" text-anchor="start" font-family="Liberation Sans, sans-serif"  font-weight="500">显示模块</text>
<text x="917.5" y="416.5" font-size="26.5" fill="#10107e" text-anchor="start" font-family="Liberation Sans, sans-serif"  font-weight="500">按键模块</text>
<text x="555" y="645.5" font-size="25.5" fill="#10107e" text-anchor="start" font-family="Liberation Sans, sans-serif"  font-weight="500">电源</text>
<g opacity="0.95">
<text x="809.5" y="621.5" font-size="26.3" fill="#8a8a8a" text-anchor="start" font-family="Liberation Sans, sans-serif"  >电子工程师成长日记</text>
<text x="808.3" y="620.3" font-size="26.3" fill="#ffffff" text-anchor="start" font-family="Liberation Sans, sans-serif"  >电子工程师成长日记</text>
</g>
<g fill="#ffffff" stroke="#a8a8a8" stroke-width="1"><ellipse cx="773" cy="605" rx="14" ry="11.5"/><path d="M766,614 L763,621 L772,616 Z"/><ellipse cx="786" cy="616" rx="11.5" ry="9.5"/><path d="M792,623 L797,628 L789,624 Z"/></g>
<circle cx="768" cy="601" r="1.4" fill="#b0b0b0"/>
<circle cx="777" cy="601" r="1.4" fill="#b0b0b0"/>
<circle cx="782" cy="614" r="1.4" fill="#b0b0b0"/>
<circle cx="790" cy="614" r="1.4" fill="#b0b0b0"/>
</svg></body></html>
